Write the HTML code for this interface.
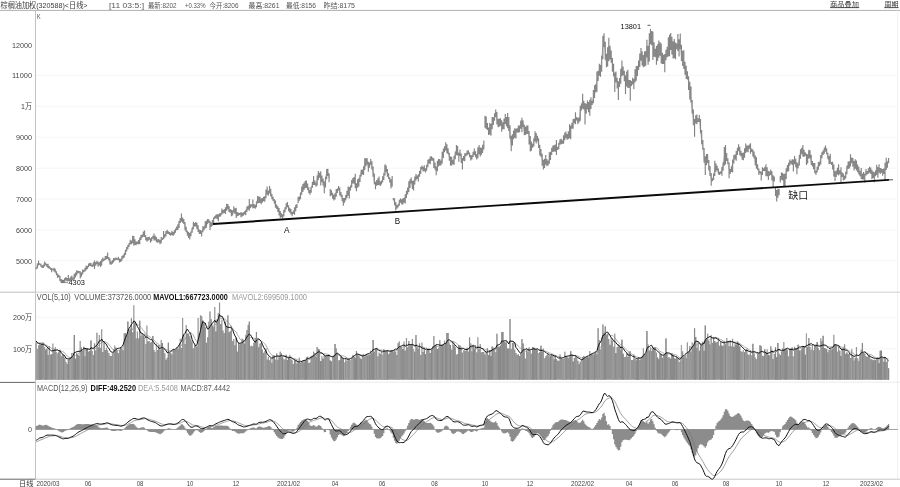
<!DOCTYPE html>
<html lang="zh"><head><meta charset="utf-8"><title>棕榈油加权 日线</title>
<style>html,body{margin:0;padding:0;background:#fff}body{width:900px;height:487px;overflow:hidden}</style></head>
<body>
<svg width="900" height="487" viewBox="0 0 900 487" style="display:block;filter:grayscale(1)">
<rect width="900" height="487" fill="#fff"/>
<line x1="36" y1="75.4" x2="898" y2="75.4" stroke="#f5f5f5" stroke-width="1"/>
<line x1="36" y1="106.3" x2="898" y2="106.3" stroke="#f5f5f5" stroke-width="1"/>
<line x1="36" y1="137.2" x2="898" y2="137.2" stroke="#f5f5f5" stroke-width="1"/>
<line x1="36" y1="168.2" x2="898" y2="168.2" stroke="#f5f5f5" stroke-width="1"/>
<line x1="36" y1="199.1" x2="898" y2="199.1" stroke="#f5f5f5" stroke-width="1"/>
<line x1="36" y1="230.0" x2="898" y2="230.0" stroke="#f5f5f5" stroke-width="1"/>
<line x1="36" y1="260.6" x2="898" y2="260.6" stroke="#f5f5f5" stroke-width="1"/>
<line x1="36" y1="317.3" x2="898" y2="317.3" stroke="#f5f5f5" stroke-width="1"/>
<line x1="36" y1="348.8" x2="898" y2="348.8" stroke="#f5f5f5" stroke-width="1"/>
<line x1="0" y1="10.4" x2="900" y2="10.4" stroke="#b0b0b0" stroke-width="1"/>
<line x1="35.5" y1="10.4" x2="35.5" y2="479.3" stroke="#c2c2c2" stroke-width="1"/>
<line x1="897.6" y1="10.4" x2="897.6" y2="479.3" stroke="#f0f0f0" stroke-width="1"/>
<line x1="0" y1="292.2" x2="35.5" y2="292.2" stroke="#bdbdbd" stroke-width="1"/>
<line x1="35.5" y1="292.2" x2="900" y2="292.2" stroke="#cfcfcf" stroke-width="1"/>
<line x1="0" y1="382.4" x2="35.5" y2="382.4" stroke="#666" stroke-width="1"/>
<line x1="35.5" y1="382.2" x2="900" y2="382.2" stroke="#ebebeb" stroke-width="1"/>
<line x1="0" y1="479.2" x2="35.5" y2="479.2" stroke="#666" stroke-width="1"/>
<line x1="35.5" y1="479.2" x2="900" y2="479.2" stroke="#c8c8c8" stroke-width="1"/>
<path d="M35.60 379.8V343.19H36.80V348.93H37.99V345.54H39.18V344.46H40.37V345.08H41.56V342.42H42.75V342.54H43.94V347.28H45.13V349.75H46.32V348.53H47.51V355.02H48.70V346.12H49.89V354.50H51.08V354.30H52.27V343.60H53.46V350.60H54.65V347.05H55.84V351.91H57.03V353.59H58.22V352.16H59.41V349.86H60.61V356.22H61.80V353.99H62.99V354.98H64.18V357.82H65.37V362.11H66.56V363.93H67.75V359.58H68.94V357.68H70.13V356.96H71.32V352.95H72.51V356.82H73.70V335.00H74.89V358.73H76.08V352.53H77.27V354.79H78.46V355.38H79.65V341.00H80.84V347.29H82.03V351.03H83.22V346.80H84.42V356.36H85.61V348.00H86.80V348.32H87.99V351.55H89.18V350.93H90.37V340.38H91.56V350.97H92.75V354.89H93.94V343.51H95.13V350.59H96.32V332.79H97.51V347.45H98.70V335.00H99.89V347.73H101.08V329.35H102.27V351.94H103.46V342.98H104.65V350.07H105.84V347.78H107.03V350.15H108.23V352.94H109.42V355.69H110.61V356.10H111.80V353.27H112.99V349.13H114.18V345.45H115.37V347.74H116.56V350.63H117.75V353.17H118.94V350.37H120.13V347.09H121.32V348.79H122.51V350.19H123.70V333.42H124.89V333.05H126.08V335.11H127.27V321.62H128.46V330.21H129.65V328.52H130.84V318.37H132.04V332.25H133.23V305.20H134.42V322.43H135.61V338.46H136.80V331.55H137.99V338.18H139.18V320.74H140.37V335.90H141.56V334.07H142.75V335.16H143.94V337.45H145.13V344.27H146.32V325.47H147.51V341.37H148.70V341.03H149.89V342.49H151.08V341.65H152.27V335.89H153.46V350.03H154.66V352.18H155.85V343.80H157.04V349.89H158.23V344.94H159.42V349.81H160.61V340.08H161.80V343.11H162.99V349.03H164.18V353.26H165.37V359.70H166.56V357.74H167.75V342.68H168.94V352.85H170.13V352.89H171.32V354.50H172.51V349.53H173.70V349.70H174.89V349.42H176.08V347.75H177.27V349.28H178.47V345.03H179.66V338.64H180.85V347.72H182.04V318.00H183.23V334.26H184.42V343.93H185.61V324.94H186.80V333.55H187.99V333.80H189.18V336.30H190.37V339.34H191.56V341.47H192.75V348.50H193.94V344.78H195.13V345.46H196.32V346.53H197.51V318.00H198.70V333.43H199.89V315.30H201.08V316.27H202.28V320.45H203.47V323.72H204.66V327.72H205.85V342.86H207.04V337.29H208.23V321.48H209.42V311.60H210.61V319.18H211.80V325.71H212.99V326.52H214.18V306.98H215.37V331.46H216.56V319.39H217.75V313.14H218.94V302.40H220.13V324.07H221.32V319.62H222.51V330.41H223.70V333.27H224.89V321.69H226.09V326.34H227.28V315.35H228.47V332.23H229.66V331.33H230.85V325.69H232.04V341.05H233.23V338.97H234.42V345.40H235.61V337.81H236.80V351.52H237.99V341.96H239.18V344.58H240.37V343.69H241.56V338.72H242.75V339.70H243.94V343.58H245.13V334.74H246.32V330.00H247.51V324.90H248.70V321.70H249.90V346.36H251.09V345.75H252.28V346.48H253.47V342.73H254.66V338.17H255.85V332.00H257.04V339.92H258.23V347.28H259.42V343.65H260.61V343.12H261.80V349.40H262.99V352.77H264.18V351.34H265.37V348.54H266.56V359.45H267.75V356.86H268.94V360.27H270.13V358.13H271.32V362.69H272.51V355.38H273.71V355.62H274.90V359.74H276.09V353.48H277.28V359.96H278.47V357.40H279.66V351.68H280.85V353.32H282.04V357.19H283.23V359.24H284.42V359.50H285.61V354.72H286.80V359.93H287.99V357.45H289.18V354.83H290.37V359.26H291.56V360.36H292.75V364.09H293.94V359.90H295.13V360.04H296.32V363.63H297.52V362.04H298.71V357.59H299.90V363.00H301.09V361.08H302.28V361.81H303.47V362.30H304.66V360.29H305.85V357.50H307.04V356.61H308.23V363.05H309.42V362.51H310.61V356.00H311.80V355.40H312.99V351.61H314.18V352.89H315.37V356.95H316.56V347.00H317.75V348.88H318.94V349.48H320.13V361.00H321.33V355.91H322.52V358.66H323.71V354.81H324.90V355.72H326.09V355.55H327.28V355.44H328.47V354.76H329.66V360.49H330.85V361.50H332.04V357.21H333.23V355.19H334.42V344.00H335.61V348.45H336.80V353.34H337.99V360.58H339.18V360.19H340.37V356.52H341.56V357.35H342.75V358.62H343.94V362.39H345.14V357.75H346.33V360.75H347.52V359.05H348.71V359.18H349.90V360.31H351.09V357.93H352.28V355.23H353.47V357.31H354.66V358.28H355.85V351.00H357.04V353.81H358.23V355.97H359.42V357.57H360.61V358.99H361.80V354.84H362.99V354.57H364.18V356.61H365.37V355.27H366.56V355.71H367.76V354.85H368.95V355.38H370.14V350.79H371.33V353.34H372.52V340.00H373.71V352.05H374.90V348.60H376.09V347.80H377.28V356.53H378.47V352.57H379.66V353.74H380.85V352.01H382.04V354.64H383.23V349.44H384.42V351.41H385.61V351.53H386.80V349.91H387.99V353.94H389.18V352.53H390.37V350.29H391.57V350.48H392.76V351.41H393.95V349.79H395.14V351.41H396.33V355.03H397.52V343.23H398.71V341.44H399.90V346.20H401.09V347.22H402.28V349.08H403.47V341.52H404.66V350.54H405.85V338.00H407.04V347.24H408.23V341.09H409.42V346.36H410.61V344.93H411.80V339.00H412.99V349.31H414.18V351.63H415.38V335.04H416.57V346.81H417.76V348.43H418.95V343.29H420.14V355.04H421.33V342.45H422.52V351.96H423.71V348.15H424.90V354.24H426.09V349.85H427.28V349.14H428.47V350.00H429.66V353.10H430.85V349.51H432.04V346.32H433.23V336.00H434.42V345.36H435.61V345.10H436.80V349.01H437.99V347.71H439.19V340.32H440.38V345.71H441.57V345.18H442.76V343.67H443.95V340.72H445.14V343.05H446.33V333.00H447.52V333.00H448.71V343.25H449.90V344.99H451.09V349.70H452.28V341.06H453.47V344.89H454.66V347.13H455.85V354.51H457.04V354.04H458.23V345.15H459.42V345.50H460.61V347.45H461.80V352.38H463.00V350.22H464.19V350.62H465.38V350.80H466.57V347.67H467.76V351.39H468.95V337.50H470.14V343.48H471.33V351.31H472.52V344.81H473.71V348.60H474.90V345.00H476.09V352.58H477.28V337.24H478.47V349.00H479.66V343.94H480.85V352.45H482.04V351.94H483.23V351.96H484.42V354.55H485.61V351.66H486.81V348.08H488.00V355.12H489.19V350.00H490.38V356.05H491.57V346.49H492.76V347.53H493.95V348.51H495.14V352.32H496.33V333.80H497.52V346.63H498.71V347.33H499.90V345.78H501.09V331.92H502.28V332.00H503.47V341.93H504.66V342.61H505.85V342.48H507.04V348.46H508.23V348.57H509.42V319.00H510.62V348.99H511.81V342.80H513.00V342.42H514.19V349.78H515.38V353.04H516.57V355.07H517.76V354.04H518.95V356.04H520.14V353.35H521.33V339.00H522.52V343.45H523.71V350.15H524.90V358.45H526.09V349.29H527.28V351.65H528.47V347.55H529.66V351.06H530.85V353.79H532.04V346.95H533.23V347.53H534.43V348.91H535.62V349.00H536.81V349.95H538.00V353.05H539.19V351.91H540.38V345.73H541.57V351.91H542.76V348.82H543.95V358.40H545.14V356.34H546.33V355.01H547.52V353.77H548.71V356.39H549.90V355.98H551.09V354.23H552.28V355.90H553.47V359.38H554.66V355.39H555.85V359.05H557.04V360.48H558.24V360.69H559.43V354.30H560.62V358.41H561.81V358.99H563.00V358.81H564.19V351.75H565.38V356.40H566.57V357.26H567.76V358.10H568.95V356.12H570.14V351.27H571.33V354.82H572.52V361.60H573.71V358.00H574.90V355.01H576.09V356.88H577.28V360.87H578.47V364.12H579.66V361.76H580.86V359.59H582.05V357.16H583.24V355.95H584.43V358.55H585.62V357.58H586.81V356.33H588.00V357.59H589.19V351.07H590.38V354.31H591.57V353.39H592.76V355.20H593.95V353.32H595.14V351.86H596.33V354.36H597.52V328.30H598.71V339.99H599.90V349.46H601.09V337.72H602.28V324.60H603.47V332.64H604.67V326.40H605.86V334.61H607.05V333.51H608.24V338.95H609.43V344.65H610.62V337.62H611.81V341.07H613.00V346.87H614.19V333.53H615.38V353.33H616.57V347.15H617.76V344.35H618.95V346.53H620.14V349.45H621.33V339.63H622.52V353.74H623.71V356.99H624.90V356.77H626.09V353.65H627.28V356.66H628.48V351.95H629.67V351.15H630.86V359.88H632.05V360.00H633.24V354.28H634.43V358.86H635.62V360.44H636.81V358.96H638.00V357.38H639.19V359.90H640.38V358.63H641.57V355.82H642.76V348.23H643.95V353.66H645.14V354.04H646.33V331.00H647.52V344.49H648.71V351.33H649.90V347.38H651.09V350.70H652.29V348.84H653.48V348.12H654.67V347.17H655.86V352.57H657.05V357.55H658.24V359.30H659.43V354.31H660.62V354.24H661.81V357.83H663.00V355.25H664.19V354.71H665.38V338.40H666.57V353.18H667.76V357.46H668.95V357.51H670.14V358.69H671.33V353.11H672.52V355.61H673.71V358.37H674.90V358.43H676.10V357.19H677.29V358.87H678.48V362.35H679.67V360.17H680.86V344.90H682.05V351.13H683.24V357.02H684.43V355.07H685.62V357.68H686.81V342.60H688.00V352.16H689.19V345.99H690.38V352.30H691.57V342.13H692.76V346.88H693.95V328.30H695.14V337.03H696.33V347.84H697.52V342.20H698.71V350.86H699.91V345.51H701.10V344.95H702.29V341.65H703.48V350.63H704.67V325.50H705.86V338.36H707.05V333.67H708.24V341.05H709.43V344.47H710.62V335.31H711.81V342.72H713.00V336.89H714.19V341.14H715.38V342.42H716.57V341.67H717.76V338.87H718.95V345.87H720.14V342.19H721.33V345.76H722.52V345.82H723.72V341.03H724.91V344.44H726.10V338.00H727.29V341.71H728.48V346.34H729.67V340.14H730.86V346.19H732.05V338.71H733.24V346.87H734.43V343.84H735.62V344.79H736.81V341.40H738.00V342.78H739.19V346.48H740.38V351.13H741.57V351.94H742.76V350.33H743.95V352.13H745.14V349.77H746.33V348.75H747.53V354.39H748.72V354.78H749.91V350.44H751.10V355.47H752.29V343.85H753.48V353.35H754.67V357.57H755.86V359.27H757.05V353.10H758.24V354.28H759.43V345.23H760.62V345.96H761.81V355.64H763.00V356.08H764.19V349.32H765.38V352.94H766.57V349.35H767.76V354.80H768.95V355.34H770.14V346.16H771.34V349.41H772.53V358.97H773.72V353.88H774.91V347.27H776.10V357.16H777.29V343.00H778.48V353.63H779.67V355.23H780.86V351.78H782.05V348.57H783.24V342.00H784.43V349.53H785.62V348.74H786.81V350.34H788.00V356.30H789.19V348.81H790.38V348.45H791.57V347.37H792.76V356.42H793.96V346.85H795.15V348.29H796.34V349.27H797.53V344.77H798.72V350.53H799.91V350.59H801.10V348.47H802.29V346.35H803.48V346.57H804.67V354.83H805.86V333.38H807.05V347.14H808.24V338.00H809.43V347.12H810.62V349.78H811.81V344.72H813.00V350.17H814.19V345.37H815.38V346.84H816.57V342.05H817.77V348.28H818.96V350.18H820.15V338.59H821.34V341.37H822.53V335.87H823.72V347.97H824.91V348.28H826.10V348.92H827.29V352.21H828.48V349.96H829.67V348.39H830.86V349.56H832.05V348.73H833.24V334.70H834.43V343.93H835.62V345.35H836.81V351.70H838.00V346.72H839.19V350.74H840.38V356.05H841.58V348.55H842.77V347.75H843.96V344.48H845.15V353.93H846.34V352.44H847.53V354.13H848.72V353.54H849.91V357.92H851.10V349.21H852.29V356.67H853.48V360.69H854.67V357.81H855.86V347.00H857.05V358.42H858.24V361.30H859.43V354.32H860.62V349.74H861.81V343.00H863.00V352.73H864.19V353.97H865.39V356.09H866.58V357.08H867.77V355.97H868.96V355.07H870.15V358.96H871.34V359.29H872.53V360.33H873.72V359.47H874.91V360.14H876.10V358.22H877.29V358.08H878.48V363.31H879.67V350.63H880.86V350.66H882.05V358.34H883.24V361.79H884.43V357.27H885.62V362.09H886.81V360.51H888.00V368.30H889.20V379.8Z" fill="#939393" stroke="none"/>
<path d="M39.77 379.8V344.46M40.96 379.8V345.08M45.72 379.8V349.75M46.91 379.8V348.53M51.68 379.8V354.30M58.82 379.8V352.16M63.58 379.8V354.98M68.34 379.8V359.58M74.30 379.8V335.00M75.49 379.8V358.73M77.87 379.8V354.79M83.82 379.8V346.80M86.20 379.8V348.00M87.39 379.8V348.32M89.77 379.8V350.93M90.96 379.8V340.38M94.53 379.8V343.51M98.11 379.8V347.45M105.25 379.8V350.07M115.96 379.8V347.74M118.34 379.8V353.17M120.73 379.8V347.09M125.49 379.8V333.05M127.87 379.8V321.62M131.44 379.8V318.37M135.01 379.8V322.43M139.77 379.8V320.74M143.35 379.8V335.16M152.87 379.8V335.89M158.82 379.8V344.94M162.39 379.8V343.11M165.96 379.8V359.70M168.35 379.8V342.68M170.73 379.8V352.89M202.87 379.8V320.45M204.06 379.8V323.72M206.44 379.8V342.86M212.39 379.8V325.71M217.16 379.8V319.39M225.49 379.8V321.69M229.06 379.8V332.23M236.20 379.8V337.81M238.59 379.8V341.96M240.97 379.8V343.69M244.54 379.8V343.58M249.30 379.8V321.70M254.06 379.8V342.73M256.44 379.8V332.00M258.82 379.8V347.28M261.21 379.8V343.12M274.30 379.8V355.62M279.06 379.8V357.40M282.63 379.8V357.19M287.40 379.8V359.93M288.59 379.8V357.45M294.54 379.8V359.90M298.11 379.8V362.04M305.25 379.8V360.29M306.44 379.8V357.50M315.97 379.8V356.95M318.35 379.8V348.88M320.73 379.8V361.00M323.11 379.8V358.66M330.25 379.8V360.49M331.44 379.8V361.50M335.02 379.8V344.00M339.78 379.8V360.19M340.97 379.8V356.52M343.35 379.8V358.62M354.06 379.8V357.31M355.25 379.8V358.28M356.45 379.8V351.00M361.21 379.8V358.99M367.16 379.8V355.71M369.54 379.8V355.38M371.92 379.8V353.34M373.11 379.8V340.00M387.40 379.8V349.91M402.87 379.8V349.08M411.21 379.8V344.93M414.78 379.8V351.63M424.30 379.8V348.15M425.49 379.8V354.24M431.45 379.8V349.51M437.40 379.8V349.01M442.16 379.8V345.18M445.73 379.8V343.05M446.92 379.8V333.00M450.49 379.8V344.99M454.07 379.8V344.89M458.83 379.8V345.15M469.54 379.8V337.50M473.11 379.8V344.81M474.31 379.8V348.60M488.59 379.8V355.12M489.78 379.8V350.00M490.97 379.8V356.05M492.16 379.8V346.49M498.12 379.8V346.63M499.31 379.8V347.33M500.50 379.8V345.78M502.88 379.8V332.00M504.07 379.8V341.93M507.64 379.8V348.46M519.54 379.8V356.04M523.12 379.8V343.45M532.64 379.8V346.95M533.83 379.8V347.53M536.21 379.8V349.00M540.97 379.8V345.73M550.50 379.8V355.98M554.07 379.8V359.38M555.26 379.8V355.39M565.97 379.8V356.40M570.74 379.8V351.27M573.12 379.8V361.60M579.07 379.8V364.12M583.83 379.8V355.95M587.40 379.8V356.33M588.59 379.8V357.59M594.55 379.8V353.32M604.07 379.8V332.64M605.26 379.8V326.40M615.97 379.8V353.33M621.93 379.8V339.63M623.12 379.8V353.74M636.21 379.8V360.44M637.40 379.8V358.96M638.59 379.8V357.38M645.74 379.8V354.04M646.93 379.8V331.00M649.31 379.8V351.33M652.88 379.8V348.84M654.07 379.8V348.12M657.64 379.8V357.55M658.83 379.8V359.30M660.02 379.8V354.31M662.40 379.8V357.83M664.79 379.8V354.71M665.98 379.8V338.40M670.74 379.8V358.69M671.93 379.8V353.11M673.12 379.8V355.61M674.31 379.8V358.37M676.69 379.8V357.19M683.83 379.8V357.02M694.55 379.8V328.30M695.74 379.8V337.03M699.31 379.8V350.86M700.50 379.8V345.51M702.88 379.8V341.65M705.26 379.8V325.50M706.45 379.8V338.36M708.83 379.8V341.05M713.60 379.8V336.89M714.79 379.8V341.14M720.74 379.8V342.19M721.93 379.8V345.76M725.50 379.8V344.44M733.83 379.8V346.87M736.22 379.8V344.79M737.41 379.8V341.40M738.60 379.8V342.78M739.79 379.8V346.48M744.55 379.8V352.13M752.88 379.8V343.85M760.03 379.8V345.23M764.79 379.8V349.32M768.36 379.8V354.80M775.50 379.8V347.27M776.69 379.8V357.16M777.88 379.8V343.00M780.26 379.8V355.23M785.03 379.8V349.53M786.22 379.8V348.74M798.12 379.8V344.77M799.31 379.8V350.53M802.88 379.8V346.35M804.07 379.8V346.57M805.26 379.8V354.83M807.65 379.8V347.14M814.79 379.8V345.37M817.17 379.8V342.05M823.12 379.8V335.87M824.31 379.8V347.97M826.69 379.8V348.92M832.65 379.8V348.73M836.22 379.8V345.35M839.79 379.8V350.74M840.98 379.8V356.05M844.55 379.8V344.48M846.93 379.8V352.44M848.12 379.8V354.13M852.88 379.8V356.67M855.27 379.8V357.81M860.03 379.8V354.32M862.41 379.8V343.00M873.12 379.8V360.33M875.50 379.8V360.14M877.89 379.8V358.08M879.08 379.8V363.31M880.27 379.8V350.63M881.46 379.8V350.66M885.03 379.8V357.27M888.60 379.8V368.30" stroke="#878787" stroke-width="1.0" fill="none"/>
<path d="M37.39 379.8V348.93M38.58 379.8V345.54M44.53 379.8V347.28M49.30 379.8V346.12M60.01 379.8V349.86M62.39 379.8V353.99M64.77 379.8V357.82M69.53 379.8V357.68M71.92 379.8V352.95M85.01 379.8V356.36M95.73 379.8V350.59M104.06 379.8V342.98M108.82 379.8V352.94M117.15 379.8V350.63M119.54 379.8V350.37M121.92 379.8V348.79M124.30 379.8V333.42M126.68 379.8V335.11M129.06 379.8V330.21M136.20 379.8V338.46M142.15 379.8V334.07M149.30 379.8V341.03M164.77 379.8V353.26M169.54 379.8V352.85M176.68 379.8V347.75M185.01 379.8V343.93M189.77 379.8V336.30M193.35 379.8V348.50M201.68 379.8V316.27M205.25 379.8V327.72M207.63 379.8V337.29M211.20 379.8V319.18M218.35 379.8V313.14M224.30 379.8V333.27M226.68 379.8V326.34M227.87 379.8V315.35M230.25 379.8V331.33M232.63 379.8V341.05M235.01 379.8V345.40M239.78 379.8V344.58M242.16 379.8V338.72M243.35 379.8V339.70M250.49 379.8V346.36M251.68 379.8V345.75M252.87 379.8V346.48M257.63 379.8V339.92M265.97 379.8V348.54M270.73 379.8V358.13M273.11 379.8V355.38M275.49 379.8V359.74M276.68 379.8V353.48M277.87 379.8V359.96M280.25 379.8V351.68M286.21 379.8V354.72M290.97 379.8V359.26M293.35 379.8V364.09M295.73 379.8V360.04M296.92 379.8V363.63M301.68 379.8V361.08M310.02 379.8V362.51M311.21 379.8V356.00M312.40 379.8V355.40M314.78 379.8V352.89M317.16 379.8V347.00M324.30 379.8V354.81M326.68 379.8V355.55M327.87 379.8V355.44M336.21 379.8V348.45M349.30 379.8V359.18M358.83 379.8V355.97M362.40 379.8V354.84M363.59 379.8V354.57M368.35 379.8V354.85M375.49 379.8V348.60M381.45 379.8V352.01M383.83 379.8V349.44M385.02 379.8V351.41M386.21 379.8V351.53M396.92 379.8V355.03M398.11 379.8V343.23M399.30 379.8V341.44M408.83 379.8V341.09M410.02 379.8V346.36M415.97 379.8V335.04M420.73 379.8V355.04M423.11 379.8V351.96M426.68 379.8V349.85M427.88 379.8V349.14M439.78 379.8V340.32M444.54 379.8V340.72M448.11 379.8V333.00M451.69 379.8V349.70M455.26 379.8V347.13M457.64 379.8V354.04M467.16 379.8V347.67M470.73 379.8V343.48M471.92 379.8V351.31M475.50 379.8V345.00M476.69 379.8V352.58M479.07 379.8V349.00M481.45 379.8V352.45M494.54 379.8V348.51M495.73 379.8V352.32M496.92 379.8V333.80M510.02 379.8V319.00M511.21 379.8V348.99M513.59 379.8V342.42M515.97 379.8V353.04M518.35 379.8V354.04M521.93 379.8V339.00M526.69 379.8V349.29M527.88 379.8V351.65M531.45 379.8V353.79M537.40 379.8V349.95M543.35 379.8V348.82M544.54 379.8V358.40M546.93 379.8V355.01M549.31 379.8V356.39M562.40 379.8V358.99M563.59 379.8V358.81M571.93 379.8V354.82M576.69 379.8V356.88M577.88 379.8V360.87M580.26 379.8V361.76M582.64 379.8V357.16M590.97 379.8V354.31M593.36 379.8V355.20M598.12 379.8V328.30M600.50 379.8V349.46M601.69 379.8V337.72M602.88 379.8V324.60M612.40 379.8V341.07M613.59 379.8V346.87M617.17 379.8V347.15M624.31 379.8V356.99M626.69 379.8V353.65M635.02 379.8V358.86M639.78 379.8V359.90M650.50 379.8V347.38M661.21 379.8V354.24M663.59 379.8V355.25M668.36 379.8V357.46M669.55 379.8V357.51M677.88 379.8V358.87M687.41 379.8V342.60M688.60 379.8V352.16M689.79 379.8V345.99M690.98 379.8V352.30M707.64 379.8V333.67M710.02 379.8V344.47M711.22 379.8V335.31M724.31 379.8V341.03M727.88 379.8V341.71M729.07 379.8V346.34M740.98 379.8V351.13M742.17 379.8V351.94M745.74 379.8V349.77M754.07 379.8V353.35M756.45 379.8V359.27M758.84 379.8V354.28M761.22 379.8V345.96M763.60 379.8V356.08M765.98 379.8V352.94M770.74 379.8V346.16M774.31 379.8V353.88M779.07 379.8V353.63M789.79 379.8V348.81M795.74 379.8V348.29M796.93 379.8V349.27M808.84 379.8V338.00M812.41 379.8V344.72M818.36 379.8V348.28M819.55 379.8V350.18M829.07 379.8V349.96M831.46 379.8V349.56M837.41 379.8V351.70M838.60 379.8V346.72M842.17 379.8V348.55M843.36 379.8V347.75M849.31 379.8V353.54M857.65 379.8V358.42M858.84 379.8V361.30M864.79 379.8V353.97M869.55 379.8V355.07M882.65 379.8V358.34M887.41 379.8V360.51" stroke="#9b9b9b" stroke-width="1.0" fill="none"/>
<path d="M36.20 379.8V343.19M56.44 379.8V351.91M57.63 379.8V353.59M65.96 379.8V362.11M70.72 379.8V356.96M80.25 379.8V341.00M92.15 379.8V350.97M96.92 379.8V332.79M113.58 379.8V349.13M140.96 379.8V335.90M144.54 379.8V337.45M145.73 379.8V344.27M155.25 379.8V352.18M156.44 379.8V343.80M160.01 379.8V349.81M171.92 379.8V354.50M183.82 379.8V334.26M195.73 379.8V345.46M199.30 379.8V333.43M210.01 379.8V311.60M246.92 379.8V330.00M260.01 379.8V343.65M264.78 379.8V351.34M283.82 379.8V359.24M332.64 379.8V357.21M338.59 379.8V360.58M344.54 379.8V362.39M346.92 379.8V360.75M350.49 379.8V360.31M351.68 379.8V357.93M352.87 379.8V355.23M365.97 379.8V355.27M377.87 379.8V356.53M382.64 379.8V354.64M413.59 379.8V349.31M433.83 379.8V336.00M463.59 379.8V350.22M486.21 379.8V351.66M529.07 379.8V347.55M538.59 379.8V353.05M552.88 379.8V355.90M564.78 379.8V351.75M581.45 379.8V359.59M630.26 379.8V351.15M648.12 379.8V344.49M655.26 379.8V347.17M679.07 379.8V362.35M681.45 379.8V344.90M685.02 379.8V355.07M698.12 379.8V342.20M701.69 379.8V344.95M726.69 379.8V338.00M743.36 379.8V350.33M749.31 379.8V354.78M751.69 379.8V355.47M793.36 379.8V356.42M800.50 379.8V350.59M806.46 379.8V333.38M811.22 379.8V349.78M815.98 379.8V346.84M820.74 379.8V338.59M851.69 379.8V349.21M854.08 379.8V360.69M861.22 379.8V349.74M876.69 379.8V358.22" stroke="#a6a6a6" stroke-width="1.0" fill="none"/>
<path d="M36.20 341.03L37.39 342.79L38.58 342.91L39.77 342.95L40.96 343.13L42.15 343.09L43.34 343.36L44.53 344.02L45.72 344.77L46.91 345.38L48.11 346.44L49.30 346.68L50.49 347.54L51.68 348.43L52.87 348.66L54.06 349.36L55.25 349.80L56.44 350.19L57.63 350.49L58.82 350.71L60.01 350.47L61.20 351.20L62.39 351.47L63.58 351.94L64.77 353.28L65.96 354.60L67.15 356.10L68.34 356.91L69.53 357.32L70.72 357.57L71.92 357.53L73.11 357.15L74.30 355.69L75.49 355.51L76.68 354.85L77.87 354.10L79.06 353.32L80.25 352.00L81.44 351.16L82.63 350.57L83.82 349.97L85.01 349.68L86.20 350.15L87.39 349.39L88.58 349.18L89.77 348.86L90.96 347.97L92.15 348.51L93.34 348.87L94.53 348.29L95.73 348.23L96.92 346.54L98.11 346.01L99.30 344.67L100.49 343.83L101.68 342.20L102.87 342.58L104.06 342.07L105.25 341.91L106.44 342.48L107.63 343.00L108.82 344.70L110.01 345.82L111.20 347.71L112.39 348.63L113.58 350.17L114.77 350.07L115.96 350.41L117.15 350.32L118.34 350.31L119.54 350.00L120.73 349.34L121.92 348.41L123.11 347.34L124.30 345.30L125.49 343.27L126.68 341.41L127.87 338.60L129.06 336.22L130.25 333.72L131.44 330.93L132.63 329.19L133.82 326.02L135.01 324.07L136.20 324.28L137.39 324.49L138.58 325.30L139.77 326.18L140.96 327.58L142.15 328.86L143.35 330.65L144.54 331.70L145.73 334.45L146.92 335.13L148.11 335.74L149.30 336.65L150.49 337.21L151.68 338.64L152.87 338.94L154.06 340.16L155.25 341.48L156.44 342.27L157.63 343.06L158.82 344.65L160.01 345.63L161.20 346.06L162.39 346.55L163.58 347.37L164.77 348.71L165.96 349.59L167.16 350.19L168.35 350.29L169.54 350.48L170.73 350.81L171.92 350.83L173.11 350.98L174.30 350.88L175.49 350.47L176.68 349.75L177.87 348.74L179.06 347.50L180.25 346.63L181.44 345.60L182.63 342.81L183.82 340.69L185.01 339.30L186.20 336.87L187.39 335.08L188.58 333.64L189.77 332.62L190.97 332.64L192.16 333.79L193.35 335.15L194.54 338.09L195.73 340.25L196.92 341.43L198.11 341.21L199.30 340.49L200.49 338.27L201.68 335.49L202.87 332.52L204.06 330.06L205.25 327.95L206.44 327.41L207.63 326.88L208.82 325.64L210.01 325.43L211.20 324.59L212.39 324.97L213.58 325.20L214.78 324.12L215.97 324.30L217.16 323.53L218.35 321.44L219.54 318.85L220.73 318.36L221.92 318.32L223.11 318.60L224.30 319.06L225.49 319.31L226.68 321.36L227.87 321.56L229.06 323.24L230.25 325.10L231.44 327.05L232.63 328.43L233.82 329.86L235.01 331.13L236.20 332.02L237.39 334.48L238.59 336.32L239.78 338.84L240.97 340.17L242.16 341.02L243.35 341.99L244.54 342.04L245.73 341.44L246.92 340.16L248.11 339.04L249.30 337.14L250.49 337.26L251.68 337.39L252.87 337.82L254.06 338.41L255.25 338.63L256.44 338.12L257.63 338.36L258.82 339.11L260.01 340.00L261.21 341.22L262.40 341.66L263.59 342.63L264.78 343.81L265.97 345.33L267.16 347.67L268.35 350.17L269.54 352.37L270.73 353.78L271.92 355.32L273.11 356.16L274.30 356.47L275.49 356.64L276.68 356.46L277.87 356.84L279.06 356.58L280.25 356.24L281.44 355.91L282.63 355.99L283.82 355.94L285.02 356.30L286.21 356.39L287.40 356.53L288.59 356.88L289.78 356.73L290.97 356.98L292.16 357.61L293.35 358.36L294.54 358.69L295.73 358.92L296.92 359.35L298.11 360.00L299.30 360.22L300.49 360.79L301.68 361.28L302.87 361.47L304.06 361.51L305.25 361.08L306.44 360.54L307.63 359.94L308.83 359.52L310.02 359.18L311.21 358.74L312.40 357.98L313.59 357.15L314.78 356.37L315.97 355.81L317.16 354.84L318.35 354.20L319.54 353.71L320.73 353.56L321.92 353.21L323.11 353.42L324.30 353.51L325.49 353.87L326.68 354.16L327.87 354.23L329.06 354.82L330.25 355.63L331.44 356.42L332.64 356.27L333.83 356.24L335.02 355.38L336.21 354.93L337.40 354.73L338.59 355.03L339.78 355.41L340.97 355.71L342.16 355.80L343.35 355.92L344.54 356.44L345.73 356.76L346.92 357.82L348.11 358.50L349.30 358.85L350.49 358.76L351.68 358.46L352.87 358.12L354.06 357.74L355.25 357.24L356.45 356.12L357.64 355.56L358.83 355.12L360.02 355.02L361.21 355.16L362.40 355.11L363.59 355.16L364.78 355.34L365.97 355.20L367.16 354.90L368.35 354.81L369.54 354.50L370.73 353.82L371.92 353.17L373.11 351.72L374.30 351.25L375.49 350.71L376.68 350.11L377.87 350.17L379.06 350.08L380.26 350.15L381.45 350.06L382.64 350.34L383.83 350.17L385.02 350.82L386.21 350.82L387.40 350.92L388.59 351.31L389.78 351.15L390.97 351.09L392.16 350.93L393.35 350.83L394.54 350.42L395.73 350.30L396.92 350.20L398.11 349.36L399.30 348.52L400.49 347.79L401.68 347.27L402.87 347.03L404.07 346.44L405.26 346.36L406.45 345.71L407.64 345.50L408.83 344.75L410.02 344.96L411.21 345.20L412.40 344.86L413.59 345.04L414.78 345.27L415.97 345.03L417.16 344.96L418.35 345.69L419.54 345.66L420.73 346.63L421.92 346.58L423.11 347.11L424.30 347.72L425.49 348.06L426.68 348.00L427.88 348.78L429.07 348.93L430.26 349.12L431.45 349.34L432.64 348.70L433.83 348.14L435.02 347.52L436.21 347.10L437.40 346.61L438.59 346.33L439.78 345.73L440.97 345.43L442.16 344.97L443.35 344.63L444.54 344.25L445.73 344.51L446.92 343.63L448.11 342.72L449.30 342.14L450.49 341.77L451.69 342.16L452.88 341.86L454.07 341.89L455.26 342.28L456.45 343.36L457.64 344.35L458.83 345.40L460.02 346.48L461.21 347.10L462.40 347.83L463.59 348.12L464.78 348.84L465.97 349.28L467.16 349.35L468.35 349.15L469.54 348.13L470.73 347.84L471.92 347.90L473.11 347.55L474.31 347.23L475.50 346.93L476.69 347.10L477.88 346.52L479.07 346.84L480.26 346.69L481.45 347.76L482.64 348.47L483.83 348.73L485.02 349.49L486.21 349.86L487.40 350.20L488.59 350.41L489.78 351.08L490.97 351.34L492.16 351.24L493.35 350.64L494.54 350.05L495.73 349.67L496.92 348.13L498.12 347.45L499.31 347.01L500.50 346.09L501.69 344.69L502.88 343.07L504.07 342.63L505.26 342.28L506.45 341.98L507.64 341.89L508.83 342.81L510.02 341.29L511.21 341.27L512.40 340.98L513.59 341.54L514.78 342.65L515.97 343.63L517.16 344.86L518.35 346.19L519.54 347.34L520.73 348.24L521.93 349.82L523.12 349.78L524.31 350.29L525.50 351.15L526.69 350.99L527.88 350.66L529.07 349.98L530.26 349.59L531.45 349.28L532.64 348.77L533.83 349.15L535.02 349.44L536.21 349.41L537.40 349.03L538.59 349.37L539.78 349.56L540.97 349.66L542.16 349.91L543.35 349.84L544.54 350.67L545.74 351.35L546.93 351.88L548.12 352.34L549.31 352.89L550.50 353.25L551.69 353.58L552.88 354.34L554.07 354.95L555.26 355.51L556.45 355.75L557.64 356.17L558.83 356.67L560.02 356.88L561.21 357.16L562.40 357.42L563.59 357.71L564.78 357.46L565.97 357.20L567.16 357.16L568.35 356.91L569.55 356.49L570.74 355.81L571.93 355.70L573.12 355.74L574.31 355.61L575.50 355.40L576.69 355.76L577.88 356.16L579.07 356.77L580.26 357.27L581.45 357.77L582.64 358.30L583.83 358.44L585.02 358.24L586.21 358.07L587.40 357.89L588.59 357.60L589.78 356.74L590.97 355.89L592.16 355.14L593.36 354.61L594.55 354.12L595.74 353.58L596.93 352.86L598.12 350.60L599.31 348.89L600.50 347.48L601.69 345.68L602.88 342.90L604.07 340.70L605.26 338.29L606.45 336.68L607.64 335.31L608.83 334.29L610.02 335.25L611.21 335.43L612.40 335.37L613.59 336.36L614.78 337.43L615.97 339.21L617.17 341.01L618.36 342.18L619.55 343.50L620.74 344.65L621.93 344.92L623.12 346.33L624.31 347.72L625.50 348.77L626.69 350.36L627.88 351.03L629.07 351.75L630.26 352.56L631.45 353.68L632.64 354.63L633.83 355.76L635.02 356.34L636.21 356.79L637.40 357.10L638.59 357.40L639.78 357.60L640.98 357.90L642.17 358.01L643.36 357.08L644.55 356.34L645.74 355.82L646.93 353.69L648.12 352.14L649.31 351.00L650.50 349.73L651.69 348.68L652.88 347.84L654.07 347.38L655.26 347.49L656.45 347.76L657.64 348.41L658.83 350.44L660.02 351.39L661.21 351.89L662.40 352.71L663.59 353.16L664.79 353.64L665.98 353.25L667.17 353.68L668.36 354.03L669.55 354.10L670.74 354.15L671.93 354.16L673.12 354.32L674.31 354.44L675.50 354.77L676.69 355.12L677.88 356.52L679.07 357.36L680.26 357.83L681.45 357.35L682.64 357.01L683.83 357.14L685.02 356.89L686.21 356.45L687.41 355.08L688.60 354.27L689.79 353.00L690.98 351.84L692.17 350.18L693.36 349.57L694.55 347.57L695.74 345.75L696.93 344.79L698.12 343.55L699.31 343.82L700.50 343.47L701.69 343.50L702.88 342.93L704.07 343.22L705.26 341.66L706.45 341.71L707.64 340.94L708.83 340.03L710.02 339.73L711.22 338.56L712.41 338.25L713.60 337.69L714.79 337.58L715.98 337.07L717.17 337.99L718.36 338.18L719.55 339.11L720.74 339.54L721.93 340.03L723.12 341.02L724.31 341.29L725.50 341.96L726.69 341.93L727.88 341.92L729.07 342.15L730.26 342.18L731.45 342.14L732.64 341.90L733.83 341.97L735.03 341.96L736.22 342.33L737.41 342.41L738.60 343.00L739.79 343.65L740.98 344.29L742.17 345.31L743.36 345.90L744.55 346.99L745.74 347.50L746.93 348.11L748.12 348.96L749.31 349.99L750.50 350.66L751.69 351.38L752.88 351.18L754.07 351.41L755.26 351.90L756.45 352.33L757.64 352.51L758.84 352.75L760.03 352.14L761.22 351.57L762.41 351.86L763.60 351.99L764.79 352.47L765.98 352.72L767.17 352.59L768.36 352.56L769.55 352.77L770.74 352.28L771.93 352.35L773.12 352.77L774.31 352.29L775.50 351.41L776.69 351.43L777.88 350.48L779.07 350.42L780.26 350.28L781.45 350.04L782.65 350.27L783.84 350.05L785.03 349.75L786.22 349.58L787.41 349.75L788.60 349.61L789.79 349.77L790.98 349.31L792.17 348.76L793.36 348.96L794.55 348.86L795.74 349.25L796.93 349.21L798.12 348.90L799.31 348.74L800.50 348.18L801.69 347.84L802.88 347.40L804.07 347.11L805.26 346.85L806.46 346.02L807.65 345.94L808.84 345.37L810.03 345.51L811.22 345.45L812.41 345.06L813.60 345.05L814.79 344.90L815.98 344.87L817.17 344.19L818.36 345.11L819.55 345.45L820.74 345.74L821.93 345.68L823.12 345.16L824.31 345.56L825.50 345.67L826.69 346.06L827.88 346.47L829.07 346.92L830.27 346.86L831.46 346.68L832.65 347.00L833.84 346.32L835.03 346.49L836.22 346.19L837.41 346.32L838.60 346.25L839.79 346.33L840.98 346.94L842.17 347.24L843.36 347.44L844.55 347.49L845.74 348.83L846.93 349.60L848.12 350.44L849.31 350.95L850.50 352.03L851.69 352.46L852.88 353.06L854.08 354.16L855.27 354.98L856.46 355.23L857.65 355.43L858.84 355.69L860.03 355.30L861.22 354.66L862.41 353.45L863.60 353.40L864.79 353.16L865.98 352.98L867.17 353.18L868.36 354.05L869.55 354.30L870.74 354.54L871.93 355.12L873.12 355.95L874.31 357.00L875.50 357.50L876.69 357.77L877.89 357.88L879.08 358.19L880.27 357.87L881.46 357.65L882.65 357.68L883.84 357.93L885.03 357.91L886.22 358.20L887.41 358.36L888.60 359.04" stroke="#8a8a8a" stroke-width="0.7" fill="none"/>
<path d="M36.20 341.03L37.39 342.97L38.58 343.35L39.77 343.63L40.96 344.06L42.15 344.45L43.34 344.23L44.53 344.90L45.72 345.85L46.91 346.57L48.11 348.30L49.30 349.03L50.49 350.17L51.68 351.01L52.87 350.61L54.06 350.13L55.25 350.23L56.44 349.94L57.63 349.87L58.82 350.81L60.01 350.99L61.20 352.77L62.39 353.77L63.58 354.69L64.77 356.09L65.96 358.20L67.15 358.67L68.34 358.87L69.53 358.76L70.72 358.25L71.92 356.83L73.11 355.63L74.30 352.51L75.49 352.35L76.68 351.59L77.87 351.53L79.06 351.11L80.25 351.50L81.44 349.98L82.63 349.55L83.82 348.40L85.01 348.25L86.20 348.91L87.39 349.02L88.58 349.08L89.77 349.53L90.96 347.78L92.15 348.10L93.34 348.52L94.53 346.96L95.73 346.25L96.92 344.74L98.11 343.68L99.30 340.82L100.49 340.88L101.68 338.98L102.87 341.53L104.06 341.48L105.25 343.57L106.44 344.22L107.63 347.33L108.82 348.26L110.01 350.47L111.20 351.96L112.39 352.33L113.58 351.90L114.77 350.75L115.96 349.55L117.15 348.63L118.34 348.30L119.54 348.11L120.73 347.84L121.92 346.43L123.11 344.85L124.30 341.15L125.49 337.71L126.68 335.19L127.87 331.33L129.06 328.26L130.25 326.85L131.44 324.37L132.63 323.19L133.82 321.09L135.01 321.49L136.20 323.84L137.39 326.54L138.58 328.45L139.77 331.00L140.96 333.11L142.15 333.25L143.35 334.27L144.54 334.81L145.73 337.68L146.92 336.80L148.11 337.87L149.30 338.79L150.49 339.61L151.68 339.59L152.87 341.20L154.06 342.69L155.25 344.45L156.44 345.13L157.63 346.57L158.82 348.10L160.01 348.51L161.20 347.51L162.39 347.77L163.58 348.01L164.77 349.25L165.96 350.68L167.16 352.71L168.35 352.20L169.54 352.16L170.73 351.66L171.92 350.62L173.11 349.25L174.30 349.57L175.49 348.88L176.68 348.00L177.87 346.80L179.06 345.23L180.25 342.93L181.44 341.66L182.63 337.31L183.82 334.58L185.01 333.39L186.20 330.81L187.39 329.14L188.58 331.24L189.77 332.60L190.97 334.91L192.16 339.54L193.35 342.07L194.54 344.08L195.73 345.90L196.92 344.76L198.11 339.77L199.30 335.71L200.49 330.35L201.68 325.11L202.87 321.54L204.06 322.91L205.25 323.03L206.44 326.80L207.63 329.10L208.82 328.53L210.01 326.52L211.20 325.15L212.39 323.17L213.58 321.90L214.78 320.22L215.97 322.32L217.16 321.25L218.35 318.54L219.54 314.55L220.73 316.58L221.92 316.07L223.11 318.08L224.30 321.49L225.49 325.09L226.68 326.82L227.87 327.16L229.06 327.45L230.25 327.32L231.44 327.85L232.63 329.55L233.82 333.23L235.01 335.91L236.20 337.86L237.39 341.93L238.59 343.03L239.78 343.39L240.97 342.94L242.16 342.77L243.35 341.21L244.54 340.91L245.73 339.16L246.92 336.99L248.11 335.35L249.30 333.98L250.49 334.90L251.68 336.72L252.87 339.15L254.06 340.95L255.25 342.32L256.44 340.29L257.63 339.20L258.82 338.98L260.01 340.03L261.21 341.51L262.40 344.37L263.59 347.24L264.78 349.15L265.97 351.15L267.16 353.71L268.35 355.22L269.54 356.72L270.73 357.27L271.92 358.38L273.11 357.48L274.30 356.89L275.49 356.43L276.68 356.05L277.87 355.89L279.06 356.25L280.25 355.95L281.44 355.39L282.63 355.93L283.82 355.99L285.02 356.35L286.21 356.81L287.40 357.67L288.59 357.83L289.78 357.48L290.97 357.64L292.16 358.46L293.35 359.12L294.54 359.59L295.73 360.37L296.92 361.05L298.11 361.74L299.30 361.82L300.49 361.81L301.68 361.48L302.87 360.83L304.06 360.41L305.25 360.29L306.44 359.35L307.63 358.51L308.83 358.31L310.02 357.99L311.21 357.18L312.40 356.62L313.59 355.88L314.78 354.58L315.97 353.78L317.16 352.60L318.35 351.95L319.54 351.84L320.73 352.86L321.92 352.88L323.11 354.29L324.30 355.08L325.49 355.92L326.68 355.51L327.87 355.64L329.06 355.40L330.25 356.21L331.44 356.68L332.64 356.68L333.83 356.47L335.02 355.10L336.21 353.74L337.40 353.20L338.59 353.93L339.78 354.84L340.97 356.58L342.16 357.73L343.35 358.39L344.54 358.66L345.73 358.46L346.92 359.00L348.11 359.26L349.30 359.14L350.49 358.37L351.68 357.86L352.87 356.71L354.06 355.99L355.25 355.35L356.45 353.99L357.64 353.98L358.83 354.50L360.02 354.97L361.21 355.49L362.40 355.95L363.59 355.67L364.78 355.38L365.97 354.77L367.16 354.05L368.35 353.61L369.54 353.25L370.73 352.16L371.92 351.50L373.11 349.49L374.30 349.35L375.49 348.78L376.68 348.62L377.87 349.15L379.06 350.61L380.26 350.79L381.45 351.17L382.64 351.92L383.83 351.14L385.02 351.08L386.21 350.91L387.40 350.75L388.59 350.75L389.78 351.16L390.97 351.11L392.16 350.72L393.35 350.48L394.54 349.62L395.73 349.09L396.92 349.20L398.11 348.00L399.30 346.70L400.49 346.31L401.68 345.85L402.87 345.19L404.07 345.01L405.26 346.01L406.45 345.12L407.64 345.19L408.83 344.38L410.02 344.98L411.21 344.42L412.40 344.60L413.59 344.90L414.78 346.26L415.97 345.22L417.16 345.63L418.35 346.87L419.54 346.41L420.73 346.99L421.92 347.83L423.11 348.40L424.30 348.37L425.49 349.57L426.68 349.00L427.88 349.74L429.07 349.35L430.26 349.63L431.45 348.84L432.64 348.18L433.83 346.47L435.02 345.69L436.21 344.66L437.40 344.60L438.59 344.75L439.78 345.23L440.97 345.27L442.16 345.28L443.35 344.61L444.54 343.49L445.73 343.43L446.92 341.67L448.11 339.97L449.30 339.87L450.49 340.52L451.69 341.42L452.88 342.48L454.07 343.96L455.26 344.97L456.45 346.65L457.64 347.68L458.83 348.32L460.02 348.59L461.21 348.82L462.40 348.78L463.59 348.55L464.78 349.35L465.97 349.67L467.16 349.43L468.35 349.05L469.54 347.39L470.73 346.33L471.92 346.12L473.11 345.95L474.31 345.91L475.50 347.00L476.69 348.27L477.88 346.99L479.07 347.72L480.26 347.44L481.45 348.46L482.64 348.59L483.83 350.42L485.02 351.23L486.21 352.28L487.40 351.80L488.59 351.75L489.78 351.14L490.97 350.91L492.16 349.94L493.35 349.48L494.54 348.36L495.73 348.20L496.92 345.35L498.12 344.96L499.31 344.53L500.50 343.83L501.69 341.18L502.88 341.19L504.07 340.95L505.26 340.70L506.45 340.61L507.64 342.50L508.83 343.89L510.02 340.94L511.21 341.21L512.40 341.40L513.59 341.70L514.78 342.80L515.97 347.51L517.16 348.85L518.35 350.50L519.54 352.43L520.73 353.24L521.93 351.67L523.12 350.08L524.31 349.35L525.50 349.30L526.69 348.55L527.88 349.68L529.07 350.04L530.26 350.06L531.45 349.46L532.64 349.11L533.83 348.73L535.02 349.08L536.21 349.06L537.40 348.84L538.59 349.71L539.78 350.40L540.97 350.25L542.16 350.76L543.35 350.83L544.54 351.62L545.74 352.30L546.93 353.52L548.12 353.92L549.31 354.95L550.50 354.89L551.69 354.86L552.88 355.16L554.07 355.98L555.26 356.07L556.45 356.59L557.64 357.45L558.83 358.15L560.02 357.77L561.21 358.18L562.40 357.98L563.59 357.60L564.78 356.42L565.97 356.46L567.16 356.13L568.35 355.85L569.55 355.45L570.74 355.30L571.93 355.03L573.12 355.41L574.31 355.49L575.50 355.71L576.69 356.66L577.88 357.67L579.07 358.29L580.26 359.04L581.45 359.74L582.64 359.42L583.83 358.52L585.02 357.55L586.21 356.74L587.40 356.07L588.59 355.84L589.78 355.03L590.97 354.30L592.16 353.56L593.36 353.14L594.55 352.37L595.74 351.96L596.93 350.70L598.12 346.68L599.31 343.74L600.50 342.13L601.69 339.64L602.88 335.42L604.07 335.12L605.26 333.80L606.45 332.34L607.64 332.05L608.83 333.80L610.02 335.58L611.21 337.52L612.40 338.94L613.59 341.12L614.78 341.23L615.97 342.76L617.17 344.35L618.36 345.25L619.55 345.76L620.74 348.06L621.93 347.06L623.12 348.26L624.31 350.12L625.50 351.71L626.69 352.64L627.88 354.99L629.07 355.22L630.26 354.84L631.45 355.45L632.64 356.42L633.83 356.43L635.02 357.45L636.21 358.74L637.40 358.41L638.59 357.89L639.78 358.27L640.98 358.02L642.17 357.28L643.36 355.52L644.55 354.25L645.74 352.74L646.93 348.84L648.12 346.96L649.31 346.76L650.50 345.54L651.69 345.32L652.88 347.94L654.07 348.99L655.26 349.18L656.45 350.12L657.64 351.14L658.83 352.54L660.02 353.48L661.21 354.52L662.40 355.17L663.59 354.99L664.79 354.56L665.98 352.89L667.17 352.85L668.36 352.89L669.55 353.22L670.74 353.74L671.93 355.44L673.12 355.79L674.31 356.04L675.50 356.58L676.69 356.87L677.88 357.95L679.07 359.14L680.26 359.29L681.45 357.36L682.64 356.26L683.83 355.61L685.02 354.37L686.21 353.49L687.41 352.61L688.60 352.09L689.79 350.24L690.98 349.25L692.17 346.70L693.36 346.33L694.55 342.86L695.74 341.37L696.93 341.24L698.12 341.61L699.31 342.41L700.50 344.66L701.69 345.08L702.88 343.54L704.07 343.61L705.26 339.95L706.45 338.86L707.64 337.44L708.83 337.21L710.02 336.36L711.22 337.28L712.41 337.76L713.60 338.11L714.79 338.12L715.98 337.90L717.17 338.90L718.36 339.12L719.55 340.75L720.74 341.51L721.93 342.12L723.12 342.58L724.31 342.81L725.50 342.66L726.69 342.20L727.88 341.67L729.07 341.64L730.26 341.45L731.45 341.56L732.64 341.68L733.83 342.63L735.03 342.74L736.22 343.64L737.41 343.49L738.60 344.32L739.79 344.66L740.98 345.81L742.17 346.94L743.36 348.26L744.55 349.63L745.74 350.33L746.93 350.41L748.12 350.91L749.31 351.54L750.50 351.51L751.69 352.28L752.88 351.89L754.07 351.88L755.26 352.04L756.45 352.86L757.64 352.45L758.84 353.44L760.03 352.40L761.22 351.38L762.41 351.36L763.60 352.07L764.79 351.90L765.98 353.13L767.17 353.64L768.36 353.17L769.55 352.71L770.74 351.99L771.93 351.22L773.12 351.90L774.31 351.37L775.50 350.05L776.69 350.83L777.88 349.70L779.07 349.46L780.26 349.97L781.45 350.82L782.65 350.24L783.84 350.26L785.03 349.54L786.22 348.56L787.41 348.13L788.60 348.72L789.79 349.42L790.98 349.38L792.17 349.30L793.36 350.05L794.55 349.08L795.74 349.01L796.93 348.71L798.12 348.04L799.31 347.01L800.50 347.03L801.69 346.67L802.88 346.34L804.07 346.61L805.26 347.16L806.46 345.34L807.65 345.27L808.84 344.33L810.03 344.22L811.22 343.49L812.41 344.56L813.60 344.72L814.79 345.68L815.98 345.92L817.17 345.34L818.36 346.00L819.55 346.27L820.74 345.79L821.93 345.40L823.12 344.90L824.31 345.03L825.50 345.00L826.69 346.31L827.88 347.25L829.07 348.47L830.27 348.18L831.46 347.99L832.65 347.64L833.84 345.38L835.03 344.77L836.22 344.75L837.41 345.29L838.60 345.38L839.79 347.46L840.98 349.09L842.17 349.71L843.36 349.54L844.55 349.56L845.74 350.18L846.93 350.23L848.12 351.45L849.31 352.68L850.50 354.76L851.69 354.85L852.88 355.85L854.08 356.21L855.27 356.32L856.46 354.75L857.65 355.41L858.84 355.48L860.03 354.26L861.22 352.85L862.41 352.25L863.60 352.16L864.79 351.89L865.98 352.62L867.17 353.97L868.36 355.67L869.55 356.10L870.74 356.82L871.93 357.34L873.12 357.87L874.31 358.16L875.50 358.63L876.69 358.46L877.89 358.24L879.08 358.59L880.27 357.80L881.46 356.94L882.65 357.13L883.84 357.72L885.03 357.18L886.22 358.52L887.41 359.69L888.60 360.87" stroke="#111" stroke-width="1" fill="none" stroke-linejoin="round"/>
<path d="M36.20 267.58V269.22M37.39 263.19V268.52M38.58 260.73V265.52M39.77 263.27V264.84M40.96 263.82V266.84M42.15 265.37V267.98M43.34 264.68V267.88M44.53 261.50V266.42M45.72 262.87V265.21M46.91 264.00V267.08M48.11 263.78V268.25M49.30 265.91V268.85M50.49 267.54V269.66M51.68 268.02V272.18M52.87 268.65V270.20M54.06 267.64V271.42M55.25 268.74V272.51M56.44 271.25V275.21M57.63 273.49V278.02M58.82 274.81V276.96M60.01 275.81V281.25M61.20 279.07V282.55M62.39 279.74V282.58M63.58 280.01V283.00M64.77 278.08V282.36M65.96 277.00V280.62M67.15 278.00V281.47M68.34 275.06V281.16M69.53 278.19V281.36M70.72 276.49V280.18M71.92 275.65V280.44M73.11 277.73V280.15M74.30 273.87V279.45M75.49 272.49V277.49M76.68 270.21V275.41M77.87 270.78V273.43M79.06 271.05V272.86M80.25 271.36V278.41M81.44 272.43V276.86M82.63 269.43V274.57M83.82 269.93V272.35M85.01 267.68V271.41M86.20 265.58V270.27M87.39 265.89V269.10M88.58 263.56V267.30M89.77 262.68V266.06M90.96 262.99V266.35M92.15 264.83V267.00M93.34 262.16V266.40M94.53 260.62V268.94M95.73 261.95V265.85M96.92 260.69V264.18M98.11 261.83V266.72M99.30 262.17V265.50M100.49 260.94V267.09M101.68 259.27V265.43M102.87 257.48V261.68M104.06 258.85V260.64M105.25 255.91V260.08M106.44 255.68V259.25M107.63 252.50V259.02M108.82 257.11V260.59M110.01 258.41V264.52M111.20 261.40V264.65M112.39 259.89V263.71M113.58 258.08V262.60M114.77 257.91V260.64M115.96 257.41V259.83M117.15 258.30V260.00M118.34 256.82V260.06M119.54 258.48V262.54M120.73 258.75V261.95M121.92 256.04V260.82M123.11 255.12V258.61M124.30 252.96V257.56M125.49 249.63V254.98M126.68 247.09V251.43M127.87 244.91V249.36M129.06 243.29V246.96M130.25 239.84V244.61M131.44 240.59V244.30M132.63 235.74V243.14M133.82 236.00V245.81M135.01 239.27V244.88M136.20 241.49V245.29M137.39 241.61V244.05M138.58 240.07V244.33M139.77 237.41V244.19M140.96 235.11V240.02M142.15 234.50V237.78M143.35 231.55V236.74M144.54 230.45V237.07M145.73 235.29V240.23M146.92 237.43V241.83M148.11 237.06V240.63M149.30 236.70V239.86M150.49 238.31V242.79M151.68 237.08V241.19M152.87 235.85V238.74M154.06 233.49V240.45M155.25 235.76V240.60M156.44 237.01V242.30M157.63 239.28V242.83M158.82 238.76V242.21M160.01 240.01V244.14M161.20 237.11V243.21M162.39 238.37V240.08M163.58 231.08V239.22M164.77 234.31V237.74M165.96 230.97V236.21M167.16 229.76V233.71M168.35 231.27V233.89M169.54 232.08V234.97M170.73 232.75V235.67M171.92 230.84V234.90M173.11 232.05V236.02M174.30 230.16V234.60M175.49 228.40V232.74M176.68 226.38V230.21M177.87 224.37V229.94M179.06 220.92V228.00M180.25 218.00V222.93M181.44 213.50V221.73M182.63 217.59V222.85M183.82 218.98V223.90M185.01 221.93V230.33M186.20 226.69V232.06M187.39 230.81V235.63M188.58 231.96V237.96M189.77 233.06V239.48M190.97 231.58V236.13M192.16 227.48V232.65M193.35 221.68V229.31M194.54 223.04V226.44M195.73 221.97V226.51M196.92 222.71V228.96M198.11 225.19V231.90M199.30 229.40V233.97M200.49 230.12V233.95M201.68 230.76V236.41M202.87 226.28V232.29M204.06 226.55V230.36M205.25 221.33V228.42M206.44 220.43V227.68M207.63 218.98V224.20M208.82 219.13V222.82M210.01 220.91V230.09M211.20 222.49V227.07M212.39 219.95V225.64M213.58 217.57V223.76M214.78 216.10V219.06M215.97 214.63V218.18M217.16 213.97V219.31M218.35 214.16V221.16M219.54 213.25V216.72M220.73 213.20V216.56M221.92 208.42V214.57M223.11 210.09V213.59M224.30 209.00V213.07M225.49 207.30V213.95M226.68 203.68V210.64M227.87 204.01V209.22M229.06 206.06V212.02M230.25 209.07V212.67M231.44 209.87V216.26M232.63 210.16V215.41M233.82 206.25V212.82M235.01 208.32V214.00M236.20 207.77V218.11M237.39 212.26V216.27M238.59 212.58V215.86M239.78 213.08V215.09M240.97 211.98V217.23M242.16 212.63V216.50M243.35 212.26V215.66M244.54 211.19V214.49M245.73 209.67V215.33M246.92 206.58V212.02M248.11 205.75V209.84M249.30 198.97V210.79M250.49 204.29V208.13M251.68 204.21V206.85M252.87 199.38V208.44M254.06 203.95V208.08M255.25 204.91V208.70M256.44 201.59V207.18M257.63 196.04V203.56M258.82 196.58V202.89M260.01 196.83V203.02M261.21 198.57V204.35M262.40 198.01V202.41M263.59 196.84V201.19M264.78 196.26V201.74M265.97 189.54V198.31M267.16 186.58V194.73M268.35 190.86V195.73M269.54 186.01V193.52M270.73 188.75V196.52M271.92 193.75V199.28M273.11 196.73V201.03M274.30 198.97V203.58M275.49 200.51V207.76M276.68 204.62V208.99M277.87 206.23V212.03M279.06 208.07V215.60M280.25 210.94V218.03M281.44 213.24V217.36M282.63 214.38V218.40M283.82 209.88V216.48M285.02 207.17V212.20M286.21 203.33V209.32M287.40 201.92V207.32M288.59 205.36V211.33M289.78 207.85V212.76M290.97 209.06V214.40M292.16 212.03V216.28M293.35 210.55V214.10M294.54 207.34V214.65M295.73 204.66V211.26M296.92 204.02V207.98M298.11 196.65V203.27M299.30 196.76V200.71M300.49 192.45V199.14M301.68 186.52V194.67M302.87 183.99V191.95M304.06 182.59V189.89M305.25 180.73V188.17M306.44 180.53V187.99M307.63 183.38V190.04M308.83 187.23V193.27M310.02 189.92V194.84M311.21 186.73V192.63M312.40 181.67V187.76M313.59 176.00V185.04M314.78 180.36V185.11M315.97 182.53V186.76M317.16 175.47V185.57M318.35 171.05V179.97M319.54 172.75V177.68M320.73 171.16V185.54M321.92 175.45V182.23M323.11 178.62V185.50M324.30 181.49V193.26M325.49 176.71V187.54M326.68 169.00V179.26M327.87 168.70V176.03M329.06 173.28V182.23M330.25 189.06V196.20M331.44 190.15V195.55M332.64 192.65V198.87M333.83 194.82V200.42M335.02 193.31V199.44M336.21 188.93V196.87M337.40 188.60V193.12M338.59 185.94V190.47M339.78 187.45V195.55M340.97 191.93V196.75M342.16 194.78V201.16M343.35 197.88V205.68M344.54 197.90V202.67M345.73 195.06V200.49M346.92 190.87V198.28M348.11 186.50V195.85M349.30 186.89V198.50M350.49 185.42V190.50M351.68 179.94V187.54M352.87 177.98V183.59M354.06 177.10V183.79M355.25 173.64V188.36M356.45 183.31V191.29M357.64 179.28V187.73M358.83 178.22V186.39M360.02 175.09V181.95M361.21 169.73V176.38M362.40 169.47V174.48M363.59 166.35V174.94M364.78 158.19V170.08M365.97 158.00V166.20M367.16 158.13V164.38M368.35 161.63V171.69M369.54 162.53V167.74M370.73 158.92V164.78M371.92 161.18V169.51M373.11 166.51V176.82M374.30 173.50V184.18M375.49 181.81V189.34M376.68 180.08V185.71M377.87 178.34V185.28M379.06 176.52V184.95M380.26 181.19V186.02M381.45 180.45V184.39M382.64 176.14V182.55M383.83 173.18V179.97M385.02 164.35V175.49M386.21 165.59V172.29M387.40 169.04V176.84M388.59 173.37V178.88M389.78 177.24V182.58M390.97 179.28V188.45M392.16 176.07V186.86M393.35 198.09V200.31M394.54 198.17V205.18M395.73 201.98V210.50M396.92 204.68V208.72M398.11 204.47V207.56M399.30 199.71V205.72M400.49 198.38V202.68M401.68 199.35V204.42M402.87 198.32V204.54M404.07 197.73V202.66M405.26 194.15V203.41M406.45 190.75V198.04M407.64 187.57V194.38M408.83 181.35V192.04M410.02 179.35V188.04M411.21 177.54V183.51M412.40 180.76V188.91M413.59 180.55V190.41M414.78 176.46V184.59M415.97 173.95V180.50M417.16 175.43V178.93M418.35 174.23V181.48M419.54 170.92V176.72M420.73 166.98V174.04M421.92 165.50V169.48M423.11 166.63V171.54M424.30 165.18V171.24M425.49 168.16V172.47M426.68 164.86V170.85M427.88 159.73V167.35M429.07 158.66V163.40M430.26 156.52V164.33M431.45 156.21V160.73M432.64 157.40V160.63M433.83 158.15V167.93M435.02 162.46V169.42M436.21 166.45V175.18M437.40 160.76V171.26M438.59 158.90V166.59M439.78 159.11V165.40M440.97 160.40V165.61M442.16 151.72V163.60M443.35 148.58V158.00M444.54 146.13V152.34M445.73 142.13V150.62M446.92 144.14V153.35M448.11 148.15V154.30M449.30 152.66V160.75M450.49 156.59V165.40M451.69 156.79V165.67M452.88 159.63V164.13M454.07 155.68V165.00M455.26 151.49V159.18M456.45 144.99V155.19M457.64 146.00V155.58M458.83 152.47V161.81M460.02 149.46V156.06M461.21 153.47V162.96M462.40 157.99V169.38M463.59 156.06V160.72M464.78 153.29V161.35M465.97 153.16V156.37M467.16 150.57V155.14M468.35 150.27V154.20M469.54 152.55V157.20M470.73 154.94V160.38M471.92 155.16V159.39M473.11 151.84V157.09M474.31 148.55V155.08M475.50 151.27V157.30M476.69 154.03V159.59M477.88 147.21V158.27M479.07 145.08V154.18M480.26 147.55V156.53M481.45 147.72V154.75M482.64 144.66V152.93M483.83 140.54V149.56M485.02 115.84V127.67M486.21 116.49V129.09M487.40 122.97V129.88M488.59 127.41V134.98M489.78 122.99V134.60M490.97 123.66V135.65M492.16 117.02V129.14M493.35 117.19V124.91M494.54 113.18V120.78M495.73 109.59V117.22M496.92 111.97V124.60M498.12 119.02V127.21M499.31 118.47V126.65M500.50 118.21V125.83M501.69 120.30V131.76M502.88 122.32V129.33M504.07 118.51V129.35M505.26 114.01V123.90M506.45 117.11V126.33M507.64 113.03V128.24M508.83 116.94V131.00M510.02 125.20V138.86M511.21 135.74V151.17M512.40 134.31V145.46M513.59 130.57V139.20M514.78 128.25V137.67M515.97 128.65V138.60M517.16 128.31V132.52M518.35 125.44V132.75M519.54 125.59V132.16M520.73 120.52V128.78M521.93 117.84V132.24M523.12 120.54V127.01M524.31 124.80V135.15M525.50 126.71V135.02M526.69 125.48V134.11M527.88 125.61V133.97M529.07 131.06V144.40M530.26 135.89V151.56M531.45 141.55V150.68M532.64 143.65V147.65M533.83 138.21V146.56M535.02 131.27V141.47M536.21 133.10V143.52M537.40 135.76V141.36M538.59 138.19V148.12M539.78 144.84V155.41M540.97 149.05V156.63M542.16 153.86V165.75M543.35 159.81V169.50M544.54 158.78V167.90M545.74 154.93V164.77M546.93 158.95V166.23M548.12 160.85V165.41M549.31 152.14V163.78M550.50 151.83V159.98M551.69 147.64V154.96M552.88 145.48V151.99M554.07 145.30V151.57M555.26 144.43V151.70M556.45 140.10V155.12M557.64 146.90V149.96M558.83 142.73V149.31M560.02 139.17V144.67M561.21 138.87V144.32M562.40 140.48V143.72M563.59 135.18V143.82M564.78 132.60V140.15M565.97 131.46V138.18M567.16 134.11V139.74M568.35 131.26V139.08M569.55 124.15V138.36M570.74 125.62V139.19M571.93 122.85V128.71M573.12 119.11V128.87M574.31 118.78V123.26M575.50 112.29V124.14M576.69 116.88V120.56M577.88 117.82V124.21M579.07 117.48V122.57M580.26 105.85V120.67M581.45 103.41V110.46M582.64 93.70V108.79M583.83 100.73V109.54M585.02 103.08V124.39M586.21 103.74V113.86M587.40 100.57V109.52M588.59 101.90V112.20M589.78 99.80V115.72M590.97 97.19V108.98M592.16 100.70V105.10M593.36 90.04V103.35M594.55 85.28V98.10M595.74 84.25V92.38M596.93 71.58V91.66M598.12 70.98V80.89M599.31 63.75V75.72M600.50 64.93V76.84M601.69 55.65V71.83M602.88 35.63V59.18M604.07 33.30V47.04M605.26 41.86V59.64M606.45 53.68V67.22M607.64 47.27V66.52M608.83 37.71V61.26M610.02 45.67V59.51M611.21 50.60V62.81M612.40 58.02V71.70M613.59 63.74V76.33M614.78 72.42V92.03M615.97 71.40V82.57M617.17 77.83V88.52M618.36 81.21V100.00M619.55 78.01V87.05M620.74 68.70V83.64M621.93 60.62V76.24M623.12 66.50V75.14M624.31 70.76V81.26M625.50 75.29V94.02M626.69 71.40V86.44M627.88 69.72V88.08M629.07 80.08V87.63M630.26 80.09V100.80M631.45 81.01V85.96M632.64 77.71V84.59M633.83 78.84V89.28M635.02 69.34V82.43M636.21 66.06V80.65M637.40 65.90V75.92M638.59 60.43V70.08M639.78 53.41V66.98M640.98 48.09V60.64M642.17 51.37V65.40M643.36 54.88V67.33M644.55 51.50V66.40M645.74 51.05V65.84M646.93 39.83V57.53M648.12 45.72V64.75M649.31 33.29V61.54M650.50 28.94V44.18M651.69 31.05V45.13M652.88 31.45V59.98M654.07 42.30V56.64M655.26 48.66V57.20M656.45 46.02V64.75M657.64 44.30V60.96M658.83 40.45V57.86M660.02 42.34V55.85M661.21 43.42V63.43M662.40 52.83V64.02M663.59 54.82V63.92M664.79 53.95V72.28M665.98 49.64V60.37M667.17 46.71V57.25M668.36 37.14V56.46M669.55 34.87V56.16M670.74 33.01V50.06M671.93 36.70V54.39M673.12 41.27V58.60M674.31 39.03V58.26M675.50 42.43V59.25M676.69 43.50V49.31M677.88 33.98V51.12M679.07 39.20V56.38M680.26 33.50V49.05M681.45 44.69V60.89M682.64 50.80V66.03M683.83 50.20V69.00M685.02 61.80V74.76M686.21 65.78V79.02M687.41 71.17V79.58M688.60 76.17V89.90M689.79 81.75V99.48M690.98 86.57V102.60M692.17 99.91V113.57M693.36 109.42V125.32M694.55 118.96V136.70M695.74 115.26V123.62M696.93 114.39V124.35M698.12 118.22V121.90M699.31 114.96V121.94M700.50 118.95V133.22M701.69 130.12V144.15M702.88 139.90V149.54M704.07 148.05V162.48M705.26 156.37V175.00M706.45 153.92V165.19M707.64 154.00V163.01M708.83 159.91V170.53M710.02 166.00V176.04M711.22 172.99V185.80M712.41 178.31V181.27M713.60 173.47V179.97M714.79 160.71V176.01M715.98 163.53V171.63M717.17 165.84V170.35M718.36 168.44V174.62M719.55 171.82V174.93M720.74 171.13V173.77M721.93 166.80V175.81M723.12 162.35V170.72M724.31 146.94V165.71M725.50 145.00V164.45M726.69 153.00V160.99M727.88 158.16V164.11M729.07 162.48V178.31M730.26 169.04V174.11M731.45 166.37V171.92M732.64 159.53V172.58M733.83 154.97V163.49M735.03 154.38V159.58M736.22 150.98V160.87M737.41 147.71V155.10M738.60 144.29V151.29M739.79 146.78V155.25M740.98 150.83V156.60M742.17 153.02V159.63M743.36 152.45V160.19M744.55 148.17V157.72M745.74 143.50V152.90M746.93 145.40V151.66M748.12 145.55V152.22M749.31 144.57V148.66M750.50 143.34V153.69M751.69 148.52V152.12M752.88 149.55V156.61M754.07 151.38V158.37M755.26 155.39V165.62M756.45 157.36V168.72M757.64 164.15V170.09M758.84 168.60V175.05M760.03 170.93V173.55M761.22 171.72V180.39M762.41 167.32V175.01M763.60 168.23V170.93M764.79 166.73V171.26M765.98 164.23V176.21M767.17 167.30V176.21M768.36 170.82V179.94M769.55 171.43V175.78M770.74 169.54V175.10M771.93 171.36V180.45M773.12 175.27V187.00M774.31 176.45V181.40M775.50 188.00V196.00M776.69 190.00V201.50M777.88 188.50V197.63M779.07 189.04V195.35M780.26 176.05V182.53M781.45 172.60V179.85M782.65 172.68V180.39M783.84 174.05V186.03M785.03 173.50V186.28M786.22 168.23V179.00M787.41 165.06V171.65M788.60 162.72V171.20M789.79 159.61V165.75M790.98 160.83V163.81M792.17 159.33V164.96M793.36 159.42V171.55M794.55 156.04V164.17M795.74 158.78V167.19M796.93 162.18V174.20M798.12 163.52V168.18M799.31 154.88V165.60M800.50 149.29V158.71M801.69 147.70V154.14M802.88 145.09V156.42M804.07 149.79V157.10M805.26 152.29V155.77M806.46 153.85V164.88M807.65 154.15V163.46M808.84 149.86V158.45M810.03 150.19V158.39M811.22 154.85V164.99M812.41 160.96V166.43M813.60 163.03V169.17M814.79 163.11V173.32M815.98 170.65V175.00M817.17 166.83V172.44M818.36 161.89V169.87M819.55 161.63V166.30M820.74 155.02V164.56M821.93 152.34V158.13M823.12 150.20V155.11M824.31 147.38V153.68M825.50 145.54V151.48M826.69 148.37V154.19M827.88 152.79V159.31M829.07 156.02V164.13M830.27 153.72V163.87M831.46 161.90V165.06M832.65 161.82V169.55M833.84 164.53V176.43M835.03 171.16V181.00M836.22 170.59V177.03M837.41 167.77V174.61M838.60 164.36V175.61M839.79 170.29V174.21M840.98 167.35V182.49M842.17 172.25V176.96M843.36 173.49V180.53M844.55 175.87V179.70M845.74 171.77V178.43M846.93 165.46V174.28M848.12 161.44V169.06M849.31 161.13V168.45M850.50 154.37V166.41M851.69 157.47V163.24M852.88 157.91V166.67M854.08 160.98V170.58M855.27 159.26V168.87M856.46 160.55V170.57M857.65 164.58V172.29M858.84 166.69V174.60M860.03 170.76V176.27M861.22 167.98V178.89M862.41 173.43V179.55M863.60 171.95V179.61M864.79 173.65V182.47M865.98 169.04V175.54M867.17 170.98V174.38M868.36 168.31V173.66M869.55 166.76V172.77M870.74 167.47V173.95M871.93 169.78V179.17M873.12 171.40V178.08M874.31 172.24V182.16M875.50 170.21V176.14M876.69 164.78V174.89M877.89 167.08V177.78M879.08 164.28V172.73M880.27 167.97V173.89M881.46 168.59V172.66M882.65 169.00V175.69M883.84 168.50V174.06M885.03 162.76V180.85M886.22 157.77V170.12M887.41 161.48V167.64M888.60 157.88V163.17" stroke="#838383" stroke-width="1.15" fill="none"/>
<path d="M36.20 268.22L37.39 265.12L38.58 263.57L39.77 264.12L40.96 265.67L42.15 267.48L43.34 266.12L44.53 263.17L45.72 264.30L46.91 265.71L48.11 266.61L49.30 267.84L50.49 269.05L51.68 268.95L52.87 269.55L54.06 269.04L55.25 271.80L56.44 273.79L57.63 276.21L58.82 276.11L60.01 280.48L61.20 280.54L62.39 281.24L63.58 282.06L64.77 278.57L65.96 278.30L67.15 280.86L68.34 278.49L69.53 279.88L70.72 278.19L71.92 278.32L73.11 279.15L74.30 274.70L75.49 275.11L76.68 271.87L77.87 272.23L79.06 271.66L80.25 274.44L81.44 274.27L82.63 271.22L83.82 271.11L85.01 269.03L86.20 268.80L87.39 266.71L88.58 264.97L89.77 264.08L90.96 265.23L92.15 266.10L93.34 263.52L94.53 262.25L95.73 263.88L96.92 262.13L98.11 263.20L99.30 264.33L100.49 262.76L101.68 261.38L102.87 259.15L104.06 259.72L105.25 258.02L106.44 258.03L107.63 258.00L108.82 258.71L110.01 262.40L111.20 263.41L112.39 260.92L113.58 259.87L114.77 259.03L115.96 258.60L117.15 259.11L118.34 258.78L119.54 261.65L120.73 260.52L121.92 258.31L123.11 256.74L124.30 254.68L125.49 251.13L126.68 249.06L127.87 246.66L129.06 244.31L130.25 242.07L131.44 242.84L132.63 241.10L133.82 240.62L135.01 241.79L136.20 243.75L137.39 242.59L138.58 241.47L139.77 239.72L140.96 237.10L142.15 235.76L143.35 235.10L144.54 235.59L145.73 237.73L146.92 239.82L148.11 238.67L149.30 238.61L150.49 240.15L151.68 238.44L152.87 236.90L154.06 236.33L155.25 237.31L156.44 239.99L157.63 241.06L158.82 240.31L160.01 242.91L161.20 239.55L162.39 238.92L163.58 235.66L164.77 235.91L165.96 232.79L167.16 231.78L168.35 232.38L169.54 233.64L170.73 233.77L171.92 232.59L173.11 234.30L174.30 232.44L175.49 229.91L176.68 227.58L177.87 227.39L179.06 222.63L180.25 219.39L181.44 217.89L182.63 219.28L183.82 222.23L185.01 226.99L186.20 231.11L187.39 233.52L188.58 235.25L189.77 235.83L190.97 232.35L192.16 229.01L193.35 226.14L194.54 224.42L195.73 223.78L196.92 225.49L198.11 229.82L199.30 231.34L200.49 231.70L201.68 231.99L202.87 229.21L204.06 228.12L205.25 224.82L206.44 222.72L207.63 221.73L208.82 221.51L210.01 222.79L211.20 224.25L212.39 223.46L213.58 218.76L214.78 217.88L215.97 215.35L217.16 215.89L218.35 215.58L219.54 214.75L220.73 214.27L221.92 210.39L223.11 211.54L224.30 210.96L225.49 209.24L226.68 206.01L227.87 207.01L229.06 211.02L230.25 210.71L231.44 213.11L232.63 212.52L233.82 209.74L235.01 211.96L236.20 212.56L237.39 214.88L238.59 213.98L239.78 213.70L240.97 213.72L242.16 215.27L243.35 214.07L244.54 212.77L245.73 211.72L246.92 209.54L248.11 206.94L249.30 207.83L250.49 205.90L251.68 205.77L252.87 204.80L254.06 206.30L255.25 206.88L256.44 203.26L257.63 198.93L258.82 198.81L260.01 199.39L261.21 202.11L262.40 200.89L263.59 198.17L264.78 198.01L265.97 194.43L267.16 191.41L268.35 193.22L269.54 189.05L270.73 194.05L271.92 197.03L273.11 199.27L274.30 200.81L275.49 206.25L276.68 206.80L277.87 209.16L279.06 211.24L280.25 213.54L281.44 214.68L282.63 216.18L283.82 211.90L285.02 209.02L286.21 206.54L287.40 205.66L288.59 208.16L289.78 209.36L290.97 212.36L292.16 213.80L293.35 212.77L294.54 210.96L295.73 207.68L296.92 205.53M298.11 198.09L299.30 198.84L300.49 194.37L301.68 191.65L302.87 188.41L304.06 187.27L305.25 185.77L306.44 184.81L307.63 187.78L308.83 190.82L310.02 192.33L311.21 187.46L312.40 184.30L313.59 180.66L314.78 183.31L315.97 185.27L317.16 179.67L318.35 173.05L319.54 174.51L320.73 176.86L321.92 179.88L323.11 181.79L324.30 187.24L325.49 178.96L326.68 172.47L327.87 173.58L329.06 177.94M330.25 192.53L331.44 193.54L332.64 195.12L333.83 198.98L335.02 196.57L336.21 191.90L337.40 190.17L338.59 187.75L339.78 192.23L340.97 195.08L342.16 198.18L343.35 202.37L344.54 200.19L345.73 197.98L346.92 195.55L348.11 191.23L349.30 189.83L350.49 187.24L351.68 183.29L352.87 180.39L354.06 180.92L355.25 184.89L356.45 186.78L357.64 183.82L358.83 181.65L360.02 176.08L361.21 171.44L362.40 171.45L363.59 169.78L364.78 164.05L365.97 160.82L367.16 161.93L368.35 167.44L369.54 164.48L370.73 161.48L371.92 166.81L373.11 173.80L374.30 182.13L375.49 184.91L376.68 183.46L377.87 180.95L379.06 181.49L380.26 183.75L381.45 181.77L382.64 179.67L383.83 175.19L385.02 165.89L386.21 169.34L387.40 173.67L388.59 177.54L389.78 179.58L390.97 185.33L392.16 184.46M393.35 198.77L394.54 202.28L395.73 204.98L396.92 207.26L398.11 205.42L399.30 202.38L400.49 200.45L401.68 202.74L402.87 202.36L404.07 200.56L405.26 197.74L406.45 193.45L407.64 191.74L408.83 187.00L410.02 182.37L411.21 181.06L412.40 186.57L413.59 184.29L414.78 180.20L415.97 177.69L417.16 177.39L418.35 176.42L419.54 173.74L420.73 169.18L421.92 167.51L423.11 168.41L424.30 168.46L425.49 170.55L426.68 167.05L427.88 163.10L429.07 160.27L430.26 158.64L431.45 158.43L432.64 158.45L433.83 162.76L435.02 166.75L436.21 170.96L437.40 166.12L438.59 164.55L439.78 163.05L440.97 163.30L442.16 157.70L443.35 151.86L444.54 148.50L445.73 147.64L446.92 148.45L448.11 152.96L449.30 156.89L450.49 160.47L451.69 159.93L452.88 162.97L454.07 158.88L455.26 154.40L456.45 150.14L457.64 152.79L458.83 154.41L460.02 153.77L461.21 158.29L462.40 160.42L463.59 157.56L464.78 156.07L465.97 154.84L467.16 152.18L468.35 152.85L469.54 155.24L470.73 158.31L471.92 156.79L473.11 154.57L474.31 151.57L475.50 154.33L476.69 157.97L477.88 150.60L479.07 148.76L480.26 151.40L481.45 150.55L482.64 147.62L483.83 145.50M485.02 123.80L486.21 124.85L487.40 127.71L488.59 130.42L489.78 129.80L490.97 127.62L492.16 124.61L493.35 119.50L494.54 116.92L495.73 112.27L496.92 119.32L498.12 123.27L499.31 122.03L500.50 122.99L501.69 126.32L502.88 125.83L504.07 123.60L505.26 119.82L506.45 120.14L507.64 118.32L508.83 125.50L510.02 136.04L511.21 145.16L512.40 138.90L513.59 135.35L514.78 131.88L515.97 132.09L517.16 130.46L518.35 127.69L519.54 128.48L520.73 123.12L521.93 120.84L523.12 125.10L524.31 131.63L525.50 131.15L526.69 128.46L527.88 131.36L529.07 136.19L530.26 141.85L531.45 145.68L532.64 145.10L533.83 141.17L535.02 135.89L536.21 136.59L537.40 138.49L538.59 145.14L539.78 149.35L540.97 154.16L542.16 160.11L543.35 164.59L544.54 164.47L545.74 159.62L546.93 161.15L548.12 162.41L549.31 159.68L550.50 154.26L551.69 151.38L552.88 149.93L554.07 148.10L555.26 148.91L556.45 149.14L557.64 149.01L558.83 144.37L560.02 140.41L561.21 140.92L562.40 141.60L563.59 138.05L564.78 137.66L565.97 135.42L567.16 136.13L568.35 135.49L569.55 134.26L570.74 128.41L571.93 126.88L573.12 122.96L574.31 120.87L575.50 117.55L576.69 118.70L577.88 122.27L579.07 120.37L580.26 110.16L581.45 105.90L582.64 101.03L583.83 107.08L585.02 110.80L586.21 107.72L587.40 106.16L588.59 106.21L589.78 105.20L590.97 104.80L592.16 102.20L593.36 97.80L594.55 92.08L595.74 86.93L596.93 80.59L598.12 73.54L599.31 69.13L600.50 71.53L601.69 58.88L602.88 46.74L604.07 42.16L605.26 53.98L606.45 62.83L607.64 60.96L608.83 45.97L610.02 50.90L611.21 58.32L612.40 64.04L613.59 72.72L614.78 81.01L615.97 78.86L617.17 81.51L618.36 86.75L619.55 83.34L620.74 75.58L621.93 67.89L623.12 71.62L624.31 75.59L625.50 79.48L626.69 81.81L627.88 83.11L629.07 84.57L630.26 84.42L631.45 83.50L632.64 80.01L633.83 82.13L635.02 78.13L636.21 72.88L637.40 69.78L638.59 64.17L639.78 60.34L640.98 54.67L642.17 56.19L643.36 60.83L644.55 58.40L645.74 57.23L646.93 46.02L648.12 61.24L649.31 43.88L650.50 34.94L651.69 36.81L652.88 43.46L654.07 48.96L655.26 52.06L656.45 56.30L657.64 53.74L658.83 52.38L660.02 50.86L661.21 54.09L662.40 57.60L663.59 57.71L664.79 59.95L665.98 54.85L667.17 50.75L668.36 49.17L669.55 46.59L670.74 44.41L671.93 44.55L673.12 45.38L674.31 49.48L675.50 47.73L676.69 46.22L677.88 45.54L679.07 43.78L680.26 44.99L681.45 55.56L682.64 58.53L683.83 62.10L685.02 67.88L686.21 71.47L687.41 76.47L688.60 82.05L689.79 86.87L690.98 100.21L692.17 109.72L693.36 119.26L694.55 123.32L695.74 119.86L696.93 119.01L698.12 119.78L699.31 119.25L700.50 130.42L701.69 140.20L702.88 148.35L704.07 156.67L705.26 164.89L706.45 159.50L707.64 160.21L708.83 166.30L710.02 173.29L711.22 179.13L712.41 179.67L713.60 175.71L714.79 169.96L715.98 166.14L717.17 168.74L718.36 172.98L719.55 173.46L720.74 172.53L721.93 170.42L723.12 165.41L724.31 156.63L725.50 153.30L726.69 158.46L727.88 162.78L729.07 169.70L730.26 171.62L731.45 167.95L732.64 163.19L733.83 159.28L735.03 157.69L736.22 154.80L737.41 150.52L738.60 148.17L739.79 151.92L740.98 153.32L742.17 156.72L743.36 157.42L744.55 152.43L745.74 149.05L746.93 147.47L748.12 147.69L749.31 146.92L750.50 148.82L751.69 149.96L752.88 151.68L754.07 155.69L755.26 162.47L756.45 164.45L757.64 168.90L758.84 171.55L760.03 172.39L761.22 174.71L762.41 170.61L763.60 169.31L764.79 168.10L765.98 169.64L767.17 171.12L768.36 175.48L769.55 172.94L770.74 171.66L771.93 175.57L773.12 178.63L774.31 178.93M775.50 192.36L776.69 197.33L777.88 192.57L779.07 192.20M780.26 179.55L781.45 177.08L782.65 177.20L783.84 176.90L785.03 178.70L786.22 171.35L787.41 167.33L788.60 165.45L789.79 161.21L790.98 162.32L792.17 162.03L793.36 161.65L794.55 159.34L795.74 162.48L796.93 167.88L798.12 165.30L799.31 158.41L800.50 151.71L801.69 150.27L802.88 150.09L804.07 152.59L805.26 154.15L806.46 156.20L807.65 158.15L808.84 151.64L810.03 155.15L811.22 162.18L812.41 163.33L813.60 166.94L814.79 171.32L815.98 172.13L817.17 169.57L818.36 165.29L819.55 164.26L820.74 157.14L821.93 154.81L823.12 151.55L824.31 151.18L825.50 148.67L826.69 153.09L827.88 156.32L829.07 160.18L830.27 162.20L831.46 163.23L832.65 164.83L833.84 171.46L835.03 176.55L836.22 174.31L837.41 172.65L838.60 172.68L839.79 171.60L840.98 174.03L842.17 173.85L843.36 176.17L844.55 178.13L845.74 173.98L846.93 167.72L848.12 166.30L849.31 164.96L850.50 162.94L851.69 159.20L852.88 161.28L854.08 163.51L855.27 165.65L856.46 165.98L857.65 168.07L858.84 171.06L860.03 174.98L861.22 174.36L862.41 176.51L863.60 176.16L864.79 175.24L865.98 171.84L867.17 173.20L868.36 171.87L869.55 168.62L870.74 170.08L871.93 174.01L873.12 174.28L874.31 174.89L875.50 172.66L876.69 169.73L877.89 168.98L879.08 169.28L880.27 172.06L881.46 171.38L882.65 171.51L883.84 172.16L885.03 169.82L886.22 165.40L887.41 162.87L888.60 159.57" stroke="#8a8a8a" stroke-width="0.6" fill="none" stroke-linejoin="round"/>
<line x1="213" y1="224.0" x2="889" y2="179.85" stroke="#0a0a0a" stroke-width="1.9" stroke-linecap="butt"/>
<line x1="889" y1="179.85" x2="893" y2="179.6" stroke="#777" stroke-width="1.3" stroke-linecap="butt"/>
<line x1="35.5" y1="429.5" x2="898" y2="429.5" stroke="#a4a4a4" stroke-width="1"/>
<path d="M36.20 429.3V425.99M37.39 429.3V425.65M38.58 429.3V424.92M39.77 429.3V424.54M40.96 429.3V424.98M42.15 429.3V425.56M43.34 429.3V425.60M44.53 429.3V425.32M45.72 429.3V424.85M46.91 429.3V425.07M48.11 429.3V425.77M49.30 429.3V426.45M50.49 429.3V427.05M51.68 429.3V427.55M52.87 429.3V427.98M54.06 429.3V428.34M55.25 429.3V428.73M57.63 429.3V430.35M58.82 429.3V431.11M60.01 429.3V431.73M61.20 429.3V432.20M62.39 429.3V432.50M63.58 429.3V432.05M64.77 429.3V431.08M65.96 429.3V430.47M67.15 429.3V430.26M68.34 429.3V429.76M69.53 429.3V428.87M70.72 429.3V428.09M71.92 429.3V427.61M73.11 429.3V427.06M74.30 429.3V426.19M75.49 429.3V425.30M76.68 429.3V424.60M77.87 429.3V424.08M79.06 429.3V423.89M80.25 429.3V424.06M81.44 429.3V424.24M82.63 429.3V424.27M83.82 429.3V424.21M85.01 429.3V424.12M86.20 429.3V424.07M87.39 429.3V424.07M88.58 429.3V424.12M89.77 429.3V424.23M90.96 429.3V424.38M92.15 429.3V424.55M93.34 429.3V424.75M94.53 429.3V425.02M95.73 429.3V425.33M96.92 429.3V425.74M98.11 429.3V426.54M99.30 429.3V427.50M100.49 429.3V427.99M101.68 429.3V428.15M102.87 429.3V428.10M104.06 429.3V427.93M105.25 429.3V427.72M106.44 429.3V427.48M107.63 429.3V427.86M108.82 429.3V428.78M110.01 429.3V430.00M111.20 429.3V430.67M112.39 429.3V430.98M113.58 429.3V431.03M114.77 429.3V430.93M115.96 429.3V430.73M117.15 429.3V430.58M118.34 429.3V430.61M119.54 429.3V430.75M120.73 429.3V430.95M121.92 429.3V430.44M124.30 429.3V428.40M125.49 429.3V427.36M126.68 429.3V426.27M127.87 429.3V425.15M129.06 429.3V424.40M130.25 429.3V424.09M131.44 429.3V423.93M132.63 429.3V423.77M133.82 429.3V424.09M135.01 429.3V425.29M136.20 429.3V426.73M137.39 429.3V427.74M138.58 429.3V428.29M139.77 429.3V428.08M140.96 429.3V427.51M142.15 429.3V427.29M143.35 429.3V427.30M144.54 429.3V427.69M145.73 429.3V428.89M146.92 429.3V430.37M148.11 429.3V431.29M149.30 429.3V431.79M150.49 429.3V432.03M151.68 429.3V432.10M152.87 429.3V432.05M154.06 429.3V431.93M155.25 429.3V432.19M156.44 429.3V432.74M157.63 429.3V433.30M158.82 429.3V433.79M160.01 429.3V434.19M161.20 429.3V433.71M162.39 429.3V432.69M163.58 429.3V431.46M164.77 429.3V430.38M167.16 429.3V428.66M168.35 429.3V428.30M169.54 429.3V428.36M170.73 429.3V428.68M176.68 429.3V428.38M177.87 429.3V427.52M179.06 429.3V426.48M180.25 429.3V425.39M181.44 429.3V424.34M182.63 429.3V424.52M183.82 429.3V425.78M185.01 429.3V427.86M186.20 429.3V430.45M187.39 429.3V432.77M188.58 429.3V434.47M189.77 429.3V435.68M190.97 429.3V435.56M192.16 429.3V434.39M193.35 429.3V432.81M194.54 429.3V431.14M195.73 429.3V430.20M196.92 429.3V430.20M198.11 429.3V430.86M199.30 429.3V431.94M200.49 429.3V432.75M201.68 429.3V432.70M202.87 429.3V432.09M204.06 429.3V431.07M205.25 429.3V429.80M206.44 429.3V428.62M207.63 429.3V427.74M208.82 429.3V427.10M210.01 429.3V427.11M211.20 429.3V427.75M212.39 429.3V427.97M213.58 429.3V427.37M214.78 429.3V426.60M215.97 429.3V426.10M217.16 429.3V425.81M218.35 429.3V425.62M219.54 429.3V425.49M220.73 429.3V425.46M221.92 429.3V425.52M223.11 429.3V425.64M224.30 429.3V425.79M225.49 429.3V425.83M226.68 429.3V425.81M227.87 429.3V426.07M229.06 429.3V427.22M230.25 429.3V428.86M231.44 429.3V430.22M232.63 429.3V430.90M233.82 429.3V431.12M235.01 429.3V431.57M236.20 429.3V432.38M237.39 429.3V433.37M238.59 429.3V433.69M239.78 429.3V433.49M240.97 429.3V433.31M242.16 429.3V433.24M243.35 429.3V433.20M244.54 429.3V432.56M245.73 429.3V431.57M246.92 429.3V430.46M249.30 429.3V428.81M250.49 429.3V428.22M251.68 429.3V427.76M252.87 429.3V427.40M254.06 429.3V427.52M255.25 429.3V428.15M256.44 429.3V428.24M257.63 429.3V427.28M258.82 429.3V426.39M260.01 429.3V426.43M261.21 429.3V427.07M262.40 429.3V427.59M263.59 429.3V427.68M264.78 429.3V427.50M265.97 429.3V427.14M267.16 429.3V426.70M268.35 429.3V426.23M269.54 429.3V426.09M270.73 429.3V426.97M271.92 429.3V428.45M273.11 429.3V430.29M274.30 429.3V432.32M275.49 429.3V434.31M276.68 429.3V436.09M277.87 429.3V437.52M279.06 429.3V438.37M280.25 429.3V438.82M281.44 429.3V439.03M282.63 429.3V438.94M283.82 429.3V437.63M285.02 429.3V435.61M286.21 429.3V433.59M287.40 429.3V431.68M288.59 429.3V430.73M289.78 429.3V430.50M290.97 429.3V430.81M292.16 429.3V431.46M293.35 429.3V431.45M294.54 429.3V430.70M296.92 429.3V427.76M298.11 429.3V425.06M299.30 429.3V423.39M300.49 429.3V421.96M301.68 429.3V420.78M302.87 429.3V419.88M304.06 429.3V419.32M305.25 429.3V419.04M306.44 429.3V419.55M307.63 429.3V421.04M308.83 429.3V423.09M310.02 429.3V425.37M311.21 429.3V426.05M312.40 429.3V425.70M313.59 429.3V425.12M314.78 429.3V425.72M315.97 429.3V426.75M317.16 429.3V426.36M318.35 429.3V425.17M319.54 429.3V425.22M320.73 429.3V426.06M321.92 429.3V427.78M323.11 429.3V430.00M324.30 429.3V432.19M325.49 429.3V431.88M326.68 429.3V430.02M327.87 429.3V429.69M329.06 429.3V430.18M330.25 429.3V434.58M331.44 429.3V437.38M332.64 429.3V439.54M333.83 429.3V441.16M335.02 429.3V441.09M336.21 429.3V439.38M337.40 429.3V437.28M338.59 429.3V435.08M339.78 429.3V434.32M340.97 429.3V434.60M342.16 429.3V435.37M343.35 429.3V436.33M344.54 429.3V435.87M345.73 429.3V434.53M346.92 429.3V432.87M348.11 429.3V431.09M350.49 429.3V426.81M351.68 429.3V424.84M352.87 429.3V423.22M354.06 429.3V422.44M355.25 429.3V423.43M356.45 429.3V424.57M357.64 429.3V424.96M358.83 429.3V424.61M360.02 429.3V423.52M361.21 429.3V422.31M362.40 429.3V421.70M363.59 429.3V421.30M364.78 429.3V420.51M365.97 429.3V419.77M367.16 429.3V420.62M368.35 429.3V422.40M369.54 429.3V423.65M370.73 429.3V424.52M371.92 429.3V426.73M373.11 429.3V429.80M374.30 429.3V433.70M375.49 429.3V436.97M376.68 429.3V438.31M377.87 429.3V438.56M379.06 429.3V438.55M380.26 429.3V438.22M381.45 429.3V437.24M382.64 429.3V435.89M383.83 429.3V433.37M385.02 429.3V429.86M386.21 429.3V428.40M387.40 429.3V428.31M389.78 429.3V430.57M390.97 429.3V432.49M392.16 429.3V433.85M393.35 429.3V437.76M394.54 429.3V440.74M395.73 429.3V442.95M396.92 429.3V443.72M398.11 429.3V442.78M399.30 429.3V440.87M400.49 429.3V438.44M401.68 429.3V436.51M402.87 429.3V435.24M404.07 429.3V433.55M405.26 429.3V431.21M406.45 429.3V428.52M407.64 429.3V425.70M408.83 429.3V423.00M410.02 429.3V420.60M411.21 429.3V419.02M412.40 429.3V419.01M413.59 429.3V419.63M414.78 429.3V419.48M415.97 429.3V418.99M417.16 429.3V419.04M418.35 429.3V419.44M419.54 429.3V419.80M420.73 429.3V419.50M421.92 429.3V419.09M423.11 429.3V419.79M424.30 429.3V421.18M425.49 429.3V422.47M426.68 429.3V423.01M427.88 429.3V423.08M429.07 429.3V422.91M430.26 429.3V422.81M431.45 429.3V423.42M432.64 429.3V424.46M433.83 429.3V426.25M436.21 429.3V431.73M437.40 429.3V432.68M438.59 429.3V432.63M439.78 429.3V432.27M440.97 429.3V431.71M442.16 429.3V430.68M443.35 429.3V428.80M444.54 429.3V426.84M445.73 429.3V425.82M446.92 429.3V425.64M448.11 429.3V426.80M449.30 429.3V428.73M450.49 429.3V430.86M451.69 429.3V432.70M452.88 429.3V433.88M454.07 429.3V433.72M455.26 429.3V432.95M456.45 429.3V431.87M457.64 429.3V431.38M458.83 429.3V431.48M460.02 429.3V431.94M461.21 429.3V432.82M462.40 429.3V433.90M463.59 429.3V433.90M464.78 429.3V433.10M465.97 429.3V432.13M467.16 429.3V431.16M468.35 429.3V430.56M469.54 429.3V430.98M470.73 429.3V432.02M471.92 429.3V432.06M473.11 429.3V431.38M474.31 429.3V430.43M475.50 429.3V430.88M476.69 429.3V431.42M477.88 429.3V430.39M479.07 429.3V428.94M480.26 429.3V428.38M481.45 429.3V428.33M482.64 429.3V427.96M483.83 429.3V427.41M485.02 429.3V421.41M486.21 429.3V418.66M487.40 429.3V418.18M488.59 429.3V419.18M489.78 429.3V420.56M490.97 429.3V421.60M492.16 429.3V422.26M493.35 429.3V422.49M494.54 429.3V422.25M495.73 429.3V421.28M496.92 429.3V423.09M498.12 429.3V425.67M499.31 429.3V427.58M501.69 429.3V431.39M502.88 429.3V433.10M504.07 429.3V433.59M505.26 429.3V433.31M506.45 429.3V432.70M507.64 429.3V432.16M508.83 429.3V433.55M510.02 429.3V436.77M511.21 429.3V440.93M512.40 429.3V441.85M513.59 429.3V440.89M514.78 429.3V439.46M515.97 429.3V437.79M517.16 429.3V436.06M518.35 429.3V434.42M519.54 429.3V432.74M520.73 429.3V430.71M521.93 429.3V428.56M523.12 429.3V428.59M524.31 429.3V429.98M525.50 429.3V430.70M526.69 429.3V430.94M527.88 429.3V431.91M529.07 429.3V433.30M530.26 429.3V435.16M531.45 429.3V437.23M532.64 429.3V438.04M533.83 429.3V436.88M535.02 429.3V435.15M536.21 429.3V433.43M537.40 429.3V432.70M538.59 429.3V433.24M539.78 429.3V434.56M540.97 429.3V436.27M542.16 429.3V438.16M543.35 429.3V440.09M544.54 429.3V440.24M545.74 429.3V438.57M546.93 429.3V437.15M548.12 429.3V436.02M549.31 429.3V433.72M550.50 429.3V430.72M551.69 429.3V427.70M552.88 429.3V425.31M554.07 429.3V423.64M555.26 429.3V422.57M556.45 429.3V422.17M557.64 429.3V422.08M558.83 429.3V421.28M560.02 429.3V420.10M561.21 429.3V419.57M562.40 429.3V419.52M563.59 429.3V419.71M564.78 429.3V419.89M565.97 429.3V420.11M567.16 429.3V420.64M568.35 429.3V421.35M569.55 429.3V421.80M570.74 429.3V421.94M571.93 429.3V421.62M573.12 429.3V421.04M574.31 429.3V420.49M575.50 429.3V420.06M576.69 429.3V420.67M577.88 429.3V422.24M579.07 429.3V423.03M580.26 429.3V422.60M581.45 429.3V421.30M582.64 429.3V419.80M583.83 429.3V421.14M585.02 429.3V423.64M586.21 429.3V425.25M587.40 429.3V426.29M588.59 429.3V427.03M589.78 429.3V427.59M590.97 429.3V428.44M592.16 429.3V428.89M593.36 429.3V428.22M594.55 429.3V426.85M595.74 429.3V425.01M596.93 429.3V422.95M598.12 429.3V420.78M599.31 429.3V418.97M600.50 429.3V419.63M601.69 429.3V417.45M602.88 429.3V414.10M604.07 429.3V412.66M605.26 429.3V415.65M606.45 429.3V421.22M607.64 429.3V424.77M608.83 429.3V424.20M610.02 429.3V426.12M612.40 429.3V434.03M613.59 429.3V439.28M614.78 429.3V444.58M615.97 429.3V447.00M617.17 429.3V448.73M618.36 429.3V450.38M619.55 429.3V450.03M620.74 429.3V446.87M621.93 429.3V442.33M623.12 429.3V440.30M624.31 429.3V439.84M625.50 429.3V439.69M626.69 429.3V439.70M627.88 429.3V439.93M629.07 429.3V440.25M630.26 429.3V439.61M631.45 429.3V438.26M632.64 429.3V436.91M633.83 429.3V435.71M635.02 429.3V433.86M636.21 429.3V431.33M637.40 429.3V428.62M638.59 429.3V426.00M639.78 429.3V423.29M640.98 429.3V420.35M642.17 429.3V419.66M643.36 429.3V421.17M644.55 429.3V422.26M645.74 429.3V423.03M646.93 429.3V421.39M648.12 429.3V423.86M649.31 429.3V422.06M650.50 429.3V419.49M651.69 429.3V419.11M652.88 429.3V421.20M654.07 429.3V424.35M655.26 429.3V427.79M656.45 429.3V430.68M657.64 429.3V432.58M658.83 429.3V433.52M660.02 429.3V433.53M661.21 429.3V434.07M662.40 429.3V435.26M663.59 429.3V436.32M664.79 429.3V437.19M665.98 429.3V436.28M667.17 429.3V434.42M668.36 429.3V432.81M669.55 429.3V431.39M670.74 429.3V430.06M674.31 429.3V429.62M675.50 429.3V429.96M676.69 429.3V430.14M677.88 429.3V430.01M679.07 429.3V429.64M680.26 429.3V429.72M681.45 429.3V432.20M682.64 429.3V434.96M683.83 429.3V437.46M685.02 429.3V439.60M686.21 429.3V441.45M687.41 429.3V443.14M688.60 429.3V444.77M689.79 429.3V446.25M690.98 429.3V449.25M692.17 429.3V452.63M693.36 429.3V455.47M694.55 429.3V456.82M695.74 429.3V455.16M696.93 429.3V451.83M698.12 429.3V448.35M699.31 429.3V445.15M700.50 429.3V444.36M701.69 429.3V444.62M702.88 429.3V445.23M704.07 429.3V446.59M705.26 429.3V447.80M706.45 429.3V445.88M707.64 429.3V442.41M708.83 429.3V440.74M710.02 429.3V439.93M711.22 429.3V439.55M712.41 429.3V438.03M713.60 429.3V434.90M714.79 429.3V430.61M715.98 429.3V425.85M717.17 429.3V422.98M718.36 429.3V421.45M719.55 429.3V420.66M720.74 429.3V419.56M721.93 429.3V417.85M723.12 429.3V415.28M724.31 429.3V411.82M725.50 429.3V409.29M726.69 429.3V409.24M727.88 429.3V410.82M729.07 429.3V413.41M730.26 429.3V416.05M731.45 429.3V416.96M732.64 429.3V416.79M733.83 429.3V416.17M735.03 429.3V415.33M736.22 429.3V414.38M737.41 429.3V413.45M738.60 429.3V412.98M739.79 429.3V413.97M740.98 429.3V415.85M742.17 429.3V418.13M743.36 429.3V420.49M744.55 429.3V421.14M745.74 429.3V420.72M746.93 429.3V420.47M748.12 429.3V420.42M749.31 429.3V421.10M750.50 429.3V422.31M751.69 429.3V423.95M752.88 429.3V425.83M754.07 429.3V428.15M755.26 429.3V430.82M756.45 429.3V433.26M757.64 429.3V435.15M758.84 429.3V436.59M760.03 429.3V437.65M761.22 429.3V437.95M762.41 429.3V436.94M763.60 429.3V435.30M764.79 429.3V433.85M765.98 429.3V432.70M767.17 429.3V432.45M768.36 429.3V432.72M769.55 429.3V432.18M770.74 429.3V431.17M771.93 429.3V431.07M773.12 429.3V431.60M774.31 429.3V431.78M775.50 429.3V434.68M776.69 429.3V437.23M777.88 429.3V437.54M779.07 429.3V436.57M780.26 429.3V432.26M781.45 429.3V428.88M782.65 429.3V426.32M783.84 429.3V424.95M785.03 429.3V423.93M786.22 429.3V421.95M787.41 429.3V419.89M788.60 429.3V418.19M789.79 429.3V416.83M790.98 429.3V416.62M792.17 429.3V417.36M793.36 429.3V418.19M794.55 429.3V418.88M795.74 429.3V420.35M796.93 429.3V422.79M798.12 429.3V424.23M799.31 429.3V423.63M800.50 429.3V422.39M801.69 429.3V421.66M802.88 429.3V421.55M804.07 429.3V422.36M805.26 429.3V423.78M806.46 429.3V425.67M807.65 429.3V427.51M808.84 429.3V427.49M810.03 429.3V428.54M811.22 429.3V430.80M812.41 429.3V432.97M813.60 429.3V434.98M814.79 429.3V436.82M815.98 429.3V438.21M817.17 429.3V437.94M818.36 429.3V436.64M819.55 429.3V434.67M820.74 429.3V432.39M821.93 429.3V430.01M823.12 429.3V427.71M824.31 429.3V425.70M825.50 429.3V424.34M826.69 429.3V425.01M827.88 429.3V426.71M829.07 429.3V428.56M830.27 429.3V430.37M831.46 429.3V431.94M832.65 429.3V433.41M833.84 429.3V435.68M835.03 429.3V437.76M836.22 429.3V438.07M837.41 429.3V437.45M838.60 429.3V436.67M839.79 429.3V435.84M840.98 429.3V435.12M842.17 429.3V434.49M843.36 429.3V434.07M844.55 429.3V433.85M845.74 429.3V432.62M846.93 429.3V430.12M848.12 429.3V427.61M849.31 429.3V425.84M850.50 429.3V424.54M851.69 429.3V423.50M852.88 429.3V422.93M854.08 429.3V423.25M855.27 429.3V424.13M856.46 429.3V425.39M857.65 429.3V426.86M858.84 429.3V428.57M860.03 429.3V430.33M861.22 429.3V431.65M862.41 429.3V432.62M863.60 429.3V433.12M864.79 429.3V432.70M865.98 429.3V431.78M867.17 429.3V430.93M868.36 429.3V430.12M869.55 429.3V428.66M870.74 429.3V427.91M871.93 429.3V428.28M875.50 429.3V428.83M876.69 429.3V428.00M877.89 429.3V426.95M879.08 429.3V426.70M880.27 429.3V427.08M881.46 429.3V427.65M882.65 429.3V428.15M883.84 429.3V428.20M885.03 429.3V427.49M886.22 429.3V426.39M887.41 429.3V425.16M888.60 429.3V424.11" stroke="#8c8c8c" stroke-width="1.22" fill="none"/>
<path d="M36.20 441.95L37.39 441.49L38.58 440.95L39.77 440.35L40.96 439.81L42.15 439.34L43.34 438.88L44.53 438.38L45.72 437.83L46.91 437.30L48.11 436.86L49.30 436.50L50.49 436.22L51.68 436.00L52.87 435.83L54.06 435.71L55.25 435.64L56.44 435.66L57.63 435.80L58.82 436.02L60.01 436.32L61.20 436.69L62.39 437.09L63.58 437.43L64.77 437.65L65.96 437.80L67.15 437.92L68.34 437.98L69.53 437.93L70.72 437.77L71.92 437.56L73.11 437.28L74.30 436.90L75.49 436.40L76.68 435.81L77.87 435.16L79.06 434.48L80.25 433.82L81.44 433.19L82.63 432.56L83.82 431.93L85.01 431.28L86.20 430.63L87.39 429.97L88.58 429.33L89.77 428.69L90.96 428.08L92.15 427.48L93.34 426.91L94.53 426.38L95.73 425.88L96.92 425.44L98.11 425.09L99.30 424.87L100.49 424.70L101.68 424.56L102.87 424.41L104.06 424.24L105.25 424.04L106.44 423.81L107.63 423.63L108.82 423.57L110.01 423.66L111.20 423.83L112.39 424.04L113.58 424.25L114.77 424.46L115.96 424.64L117.15 424.80L118.34 424.96L119.54 425.14L120.73 425.35L121.92 425.49L123.11 425.51L124.30 425.40L125.49 425.16L126.68 424.78L127.87 424.26L129.06 423.65L130.25 422.99L131.44 422.32L132.63 421.63L133.82 420.98L135.01 420.48L136.20 420.16L137.39 419.96L138.58 419.84L139.77 419.68L140.96 419.46L142.15 419.21L143.35 418.96L144.54 418.76L145.73 418.71L146.92 418.84L148.11 419.09L149.30 419.40L150.49 419.74L151.68 420.09L152.87 420.44L154.06 420.76L155.25 421.13L156.44 421.56L157.63 422.05L158.82 422.62L160.01 423.23L161.20 423.78L162.39 424.20L163.58 424.47L164.77 424.61L165.96 424.63L167.16 424.55L168.35 424.42L169.54 424.30L170.73 424.23L171.92 424.20L173.11 424.24L174.30 424.27L175.49 424.24L176.68 424.13L177.87 423.90L179.06 423.55L180.25 423.06L181.44 422.44L182.63 421.85L183.82 421.40L185.01 421.23L186.20 421.37L187.39 421.80L188.58 422.45L189.77 423.25L190.97 424.03L192.16 424.67L193.35 425.10L194.54 425.33L195.73 425.45L196.92 425.56L198.11 425.75L199.30 426.08L200.49 426.52L201.68 426.94L202.87 427.29L204.06 427.51L205.25 427.57L206.44 427.49L207.63 427.29L208.82 427.02L210.01 426.74L211.20 426.55L212.39 426.38L213.58 426.14L214.78 425.80L215.97 425.40L217.16 424.97L218.35 424.51L219.54 424.03L220.73 423.55L221.92 423.08L223.11 422.62L224.30 422.18L225.49 421.75L226.68 421.31L227.87 420.91L229.06 420.65L230.25 420.59L231.44 420.71L232.63 420.91L233.82 421.13L235.01 421.42L236.20 421.80L237.39 422.31L238.59 422.86L239.78 423.38L240.97 423.88L242.16 424.38L243.35 424.87L244.54 425.27L245.73 425.56L246.92 425.70L248.11 425.73L249.30 425.67L250.49 425.54L251.68 425.34L252.87 425.11L254.06 424.88L255.25 424.74L256.44 424.61L257.63 424.35L258.82 423.99L260.01 423.63L261.21 423.35L262.40 423.14L263.59 422.94L264.78 422.71L265.97 422.44L267.16 422.12L268.35 421.73L269.54 421.33L270.73 421.04L271.92 420.93L273.11 421.06L274.30 421.44L275.49 422.06L276.68 422.91L277.87 423.94L279.06 425.07L280.25 426.26L281.44 427.48L282.63 428.68L283.82 429.72L285.02 430.51L286.21 431.05L287.40 431.35L288.59 431.52L289.78 431.67L290.97 431.86L292.16 432.13L293.35 432.40L294.54 432.58L295.73 432.58L296.92 432.39L298.11 431.86L299.30 431.12L300.49 430.21L301.68 429.14L302.87 427.96L304.06 426.72L305.25 425.43L306.44 424.22L307.63 423.18L308.83 422.41L310.02 421.91L311.21 421.51L312.40 421.06L313.59 420.54L314.78 420.09L315.97 419.77L317.16 419.40L318.35 418.89L319.54 418.37L320.73 417.97L321.92 417.78L323.11 417.87L324.30 418.23L325.49 418.55L326.68 418.64L327.87 418.69L329.06 418.80L330.25 419.46L331.44 420.47L332.64 421.75L333.83 423.23L335.02 424.71L336.21 425.97L337.40 426.96L338.59 427.69L339.78 428.31L340.97 428.98L342.16 429.73L343.35 430.61L344.54 431.44L345.73 432.09L346.92 432.53L348.11 432.76L349.30 432.72L350.49 432.41L351.68 431.85L352.87 431.09L354.06 430.24L355.25 429.50L356.45 428.91L357.64 428.37L358.83 427.78L360.02 427.06L361.21 426.19L362.40 425.24L363.59 424.24L364.78 423.14L365.97 421.95L367.16 420.86L368.35 420.00L369.54 419.29L370.73 418.69L371.92 418.37L373.11 418.43L374.30 418.99L375.49 419.94L376.68 421.07L377.87 422.23L379.06 423.38L380.26 424.50L381.45 425.49L382.64 426.32L383.83 426.82L385.02 426.90L386.21 426.78L387.40 426.66L388.59 426.64L389.78 426.79L390.97 427.19L392.16 427.76L393.35 428.82L394.54 430.25L395.73 431.96L396.92 433.76L398.11 435.44L399.30 436.89L400.49 438.03L401.68 438.93L402.87 439.68L404.07 440.21L405.26 440.45L406.45 440.35L407.64 439.90L408.83 439.11L410.02 438.02L411.21 436.74L412.40 435.45L413.59 434.24L414.78 433.01L415.97 431.73L417.16 430.44L418.35 429.21L419.54 428.02L420.73 426.80L421.92 425.52L423.11 424.33L424.30 423.32L425.49 422.47L426.68 421.68L427.88 420.90L429.07 420.10L430.26 419.29L431.45 418.56L432.64 417.95L433.83 417.57L435.02 417.54L436.21 417.85L437.40 418.27L438.59 418.69L439.78 419.06L440.97 419.36L442.16 419.53L443.35 419.47L444.54 419.16L445.73 418.73L446.92 418.27L448.11 417.96L449.30 417.89L450.49 418.08L451.69 418.51L452.88 419.08L454.07 419.63L455.26 420.09L456.45 420.41L457.64 420.67L458.83 420.94L460.02 421.27L461.21 421.71L462.40 422.28L463.59 422.86L464.78 423.33L465.97 423.69L467.16 423.92L468.35 424.08L469.54 424.29L470.73 424.63L471.92 424.97L473.11 425.23L474.31 425.38L475.50 425.57L476.69 425.84L477.88 425.97L479.07 425.93L480.26 425.81L481.45 425.69L482.64 425.53L483.83 425.29L485.02 424.30L486.21 422.97L487.40 421.58L488.59 420.32L489.78 419.23L490.97 418.26L492.16 417.38L493.35 416.53L494.54 415.65L495.73 414.65L496.92 413.87L498.12 413.42L499.31 413.20L500.50 413.21L501.69 413.47L502.88 413.94L504.07 414.48L505.26 414.98L506.45 415.40L507.64 415.76L508.83 416.29L510.02 417.23L511.21 418.68L512.40 420.25L513.59 421.70L514.78 422.97L515.97 424.03L517.16 424.87L518.35 425.51L519.54 425.94L520.73 426.12L521.93 426.03L523.12 425.94L524.31 426.03L525.50 426.20L526.69 426.40L527.88 426.73L529.07 427.23L530.26 427.96L531.45 428.96L532.64 430.05L533.83 431.00L535.02 431.73L536.21 432.24L537.40 432.67L538.59 433.16L539.78 433.82L540.97 434.69L542.16 435.80L543.35 437.14L544.54 438.51L545.74 439.67L546.93 440.65L548.12 441.49L549.31 442.04L550.50 442.22L551.69 442.02L552.88 441.52L554.07 440.81L555.26 439.97L556.45 439.08L557.64 438.18L558.83 437.18L560.02 436.03L561.21 434.81L562.40 433.59L563.59 432.39L564.78 431.21L565.97 430.07L567.16 428.98L568.35 427.99L569.55 427.05L570.74 426.13L571.93 425.17L573.12 424.14L574.31 423.04L575.50 421.89L576.69 420.81L577.88 419.92L579.07 419.14L580.26 418.30L581.45 417.30L582.64 416.11L583.83 415.09L585.02 414.39L586.21 413.88L587.40 413.51L588.59 413.22L589.78 413.01L590.97 412.90L592.16 412.85L593.36 412.71L594.55 412.41L595.74 411.87L596.93 411.08L598.12 410.01L599.31 408.72L600.50 407.51L601.69 406.03L602.88 404.13L604.07 402.05L605.26 400.35L606.45 399.33L607.64 398.77L608.83 398.13L610.02 397.73L611.21 397.77L612.40 398.36L613.59 399.61L614.78 401.52L615.97 403.73L617.17 406.16L618.36 408.80L619.55 411.39L620.74 413.58L621.93 415.21L623.12 416.59L624.31 417.91L625.50 419.20L626.69 420.50L627.88 421.83L629.07 423.20L630.26 424.49L631.45 425.61L632.64 426.56L633.83 427.36L635.02 427.93L636.21 428.18L637.40 428.10L638.59 427.69L639.78 426.94L640.98 425.82L642.17 424.61L643.36 423.60L644.55 422.72L645.74 421.93L646.93 420.94L648.12 420.26L649.31 419.36L650.50 418.13L651.69 416.86L652.88 415.85L654.07 415.23L655.26 415.04L656.45 415.21L657.64 415.62L658.83 416.15L660.02 416.68L661.21 417.27L662.40 418.02L663.59 418.90L664.79 419.88L665.98 420.76L667.17 421.40L668.36 421.84L669.55 422.10L670.74 422.19L671.93 422.16L673.12 422.12L674.31 422.16L675.50 422.25L676.69 422.35L677.88 422.44L679.07 422.48L680.26 422.54L681.45 422.90L682.64 423.60L683.83 424.62L685.02 425.91L686.21 427.43L687.41 429.16L688.60 431.09L689.79 433.21L690.98 435.71L692.17 438.62L693.36 441.89L694.55 445.33L695.74 448.57L696.93 451.38L698.12 453.77L699.31 455.75L700.50 457.63L701.69 459.54L702.88 461.53L704.07 463.70L705.26 466.01L706.45 468.08L707.64 469.72L708.83 471.15L710.02 472.48L711.22 473.76L712.41 474.85L713.60 475.55L714.79 475.71L715.98 475.28L717.17 474.49L718.36 473.51L719.55 472.43L720.74 471.22L721.93 469.78L723.12 468.03L724.31 465.85L725.50 463.35L726.69 460.84L727.88 458.53L729.07 456.54L730.26 454.89L731.45 453.34L732.64 451.78L733.83 450.14L735.03 448.39L736.22 446.53L737.41 444.55L738.60 442.51L739.79 440.59L740.98 438.91L742.17 437.51L743.36 436.41L744.55 435.39L745.74 434.32L746.93 433.22L748.12 432.11L749.31 431.08L750.50 430.21L751.69 429.54L752.88 429.11L754.07 428.96L755.26 429.15L756.45 429.65L757.64 430.38L758.84 431.29L760.03 432.33L761.22 433.41L762.41 434.37L763.60 435.12L764.79 435.69L765.98 436.11L767.17 436.51L768.36 436.93L769.55 437.29L770.74 437.53L771.93 437.75L773.12 438.04L774.31 438.35L775.50 439.02L776.69 440.01L777.88 441.04L779.07 441.95L780.26 442.32L781.45 442.27L782.65 441.89L783.84 441.35L785.03 440.68L786.22 439.76L787.41 438.58L788.60 437.20L789.79 435.64L790.98 434.05L792.17 432.56L793.36 431.17L794.55 429.87L795.74 428.75L796.93 427.94L798.12 427.30L799.31 426.59L800.50 425.73L801.69 424.77L802.88 423.81L804.07 422.94L805.26 422.25L806.46 421.79L807.65 421.57L808.84 421.34L810.03 421.25L811.22 421.44L812.41 421.89L813.60 422.60L814.79 423.54L815.98 424.66L817.17 425.74L818.36 426.66L819.55 427.33L820.74 427.71L821.93 427.80L823.12 427.60L824.31 427.15L825.50 426.53L826.69 426.00L827.88 425.67L829.07 425.58L830.27 425.71L831.46 426.04L832.65 426.56L833.84 427.36L835.03 428.41L836.22 429.51L837.41 430.53L838.60 431.45L839.79 432.27L840.98 432.99L842.17 433.64L843.36 434.24L844.55 434.81L845.74 435.22L846.93 435.32L848.12 435.11L849.31 434.68L850.50 434.09L851.69 433.36L852.88 432.57L854.08 431.81L855.27 431.16L856.46 430.67L857.65 430.37L858.84 430.28L860.03 430.40L861.22 430.70L862.41 431.11L863.60 431.59L864.79 432.02L865.98 432.33L867.17 432.53L868.36 432.63L869.55 432.55L870.74 432.38L871.93 432.25L873.12 432.24L874.31 432.23L875.50 432.18L876.69 432.01L877.89 431.72L879.08 431.39L880.27 431.12L881.46 430.91L882.65 430.77L883.84 430.63L885.03 430.41L886.22 430.04L887.41 429.52L888.60 428.87" stroke="#777" stroke-width="0.7" fill="none"/>
<path d="M36.20 440.30L37.39 439.67L38.58 438.76L39.77 437.97L40.96 437.65L42.15 437.47L43.34 437.03L44.53 436.39L45.72 435.60L46.91 435.18L48.11 435.09L49.30 435.08L50.49 435.09L51.68 435.13L52.87 435.17L54.06 435.23L55.25 435.36L56.44 435.74L57.63 436.32L58.82 436.92L60.01 437.54L61.20 438.14L62.39 438.69L63.58 438.81L64.77 438.55L65.96 438.39L67.15 438.40L68.34 438.21L69.53 437.71L70.72 437.17L71.92 436.72L73.11 436.16L74.30 435.34L75.49 434.40L76.68 433.46L77.87 432.54L79.06 431.77L80.25 431.20L81.44 430.66L82.63 430.05L83.82 429.39L85.01 428.69L86.20 428.01L87.39 427.36L88.58 426.74L89.77 426.16L90.96 425.61L92.15 425.11L93.34 424.64L94.53 424.24L95.73 423.90L96.92 423.66L98.11 423.71L99.30 423.97L100.49 424.05L101.68 423.98L102.87 423.81L104.06 423.56L105.25 423.25L106.44 422.90L107.63 422.91L108.82 423.31L110.01 424.00L111.20 424.51L112.39 424.88L113.58 425.12L114.77 425.27L115.96 425.35L117.15 425.43L118.34 425.61L119.54 425.87L120.73 426.17L121.92 426.06L123.11 425.59L124.30 424.95L125.49 424.19L126.68 423.26L127.87 422.19L129.06 421.19L130.25 420.39L131.44 419.64L132.63 418.87L133.82 418.38L135.01 418.48L136.20 418.87L137.39 419.18L138.58 419.33L139.77 419.08L140.96 418.57L142.15 418.20L143.35 417.96L144.54 417.96L145.73 418.50L146.92 419.38L148.11 420.08L149.30 420.65L150.49 421.11L151.68 421.49L152.87 421.81L154.06 422.08L155.25 422.57L156.44 423.28L157.63 424.05L158.82 424.86L160.01 425.67L161.20 425.98L162.39 425.90L163.58 425.55L164.77 425.15L165.96 424.70L167.16 424.23L168.35 423.92L169.54 423.83L170.73 423.92L171.92 424.11L173.11 424.38L174.30 424.39L175.49 424.13L176.68 423.67L177.87 423.01L179.06 422.14L180.25 421.11L181.44 419.96L182.63 419.45L183.82 419.64L185.01 420.51L186.20 421.95L187.39 423.54L188.58 425.03L189.77 426.43L190.97 427.16L192.16 427.21L193.35 426.86L194.54 426.25L195.73 425.89L196.92 426.01L198.11 426.53L199.30 427.40L200.49 428.24L201.68 428.64L202.87 428.68L204.06 428.40L205.25 427.82L206.44 427.15L207.63 426.51L208.82 425.92L210.01 425.65L211.20 425.77L212.39 425.72L213.58 425.18L214.78 424.45L215.97 423.80L217.16 423.22L218.35 422.67L219.54 422.13L220.73 421.63L221.92 421.19L223.11 420.79L224.30 420.43L225.49 420.01L226.68 419.56L227.87 419.29L229.06 419.61L230.25 420.37L231.44 421.17L232.63 421.71L233.82 422.04L235.01 422.55L236.20 423.34L237.39 424.35L238.59 425.05L239.78 425.48L240.97 425.89L242.16 426.35L243.35 426.82L244.54 426.91L245.73 426.69L246.92 426.28L248.11 425.86L249.30 425.43L250.49 425.00L251.68 424.57L252.87 424.16L254.06 423.99L255.25 424.16L256.44 424.07L257.63 423.34L258.82 422.53L260.01 422.20L261.21 422.24L262.40 422.28L263.59 422.13L264.78 421.81L265.97 421.36L267.16 420.82L268.35 420.20L269.54 419.72L270.73 419.87L271.92 420.51L273.11 421.55L274.30 422.95L275.49 424.56L276.68 426.31L277.87 428.05L279.06 429.61L280.25 431.02L281.44 432.34L282.63 433.50L283.82 433.89L285.02 433.66L286.21 433.19L287.40 432.54L288.59 432.24L289.78 432.27L290.97 432.62L292.16 433.21L293.35 433.48L294.54 433.28L295.73 432.61L296.92 431.62L298.11 429.74L299.30 428.17L300.49 426.54L301.68 424.88L302.87 423.25L304.06 421.73L305.25 420.30L306.44 419.34L307.63 419.05L308.83 419.30L310.02 419.95L311.21 419.88L312.40 419.26L313.59 418.45L314.78 418.30L315.97 418.50L317.16 417.93L318.35 416.82L319.54 416.33L320.73 416.35L321.92 417.02L323.11 418.22L324.30 419.67L325.49 419.84L326.68 419.00L327.87 418.89L329.06 419.24L330.25 422.10L331.44 424.51L332.64 426.87L333.83 429.16L335.02 430.60L336.21 431.00L337.40 430.95L338.59 430.58L339.78 430.82L340.97 431.63L342.16 432.77L343.35 434.13L344.54 434.72L345.73 434.70L346.92 434.32L348.11 433.66L349.30 432.58L350.49 431.17L351.68 429.62L352.87 428.05L354.06 426.80L355.25 426.57L356.45 426.54L357.64 426.20L358.83 425.44L360.02 424.17L361.21 422.69L362.40 421.43L363.59 420.24L364.78 418.74L365.97 417.18L367.16 416.52L368.35 416.55L369.54 416.47L370.73 416.31L371.92 417.09L373.11 418.69L374.30 421.19L375.49 423.78L376.68 425.57L377.87 426.86L379.06 428.01L380.26 428.96L381.45 429.46L382.64 429.61L383.83 428.86L385.02 427.18L386.21 426.33L387.40 426.16L388.59 426.54L389.78 427.43L390.97 428.79L392.16 430.04L393.35 433.05L394.54 435.97L395.73 438.78L396.92 440.97L398.11 442.18L399.30 442.67L400.49 442.60L401.68 442.54L402.87 442.64L404.07 442.33L405.26 441.40L406.45 439.96L407.64 438.10L408.83 435.96L410.02 433.67L411.21 431.60L412.40 430.30L413.59 429.41L414.78 428.11L415.97 426.57L417.16 425.31L418.35 424.28L419.54 423.28L420.73 421.90L421.92 420.42L423.11 419.58L424.30 419.26L425.49 419.05L426.68 418.53L427.88 417.79L429.07 416.91L430.26 416.05L431.45 415.62L432.64 415.53L433.83 416.04L435.02 417.44L436.21 419.06L437.40 419.96L438.59 420.35L439.78 420.54L440.97 420.56L442.16 420.22L443.35 419.22L444.54 417.93L445.73 416.99L446.92 416.44L448.11 416.70L449.30 417.60L450.49 418.86L451.69 420.21L452.88 421.37L454.07 421.84L455.26 421.91L456.45 421.69L457.64 421.71L458.83 422.03L460.02 422.59L461.21 423.47L462.40 424.58L463.59 425.16L464.78 425.24L465.97 425.10L467.16 424.85L468.35 424.71L469.54 425.13L470.73 425.99L471.92 426.35L473.11 426.28L474.31 425.94L475.50 426.36L476.69 426.90L477.88 426.52L479.07 425.75L480.26 425.35L481.45 425.21L482.64 424.85L483.83 424.35L485.02 420.35L486.21 417.65L487.40 416.02L488.59 415.26L489.78 414.86L490.97 414.41L492.16 413.86L493.35 413.13L494.54 412.13L495.73 410.64L496.92 410.77L498.12 411.60L499.31 412.34L500.50 413.22L501.69 414.51L502.88 415.84L504.07 416.62L505.26 416.98L506.45 417.10L507.64 417.19L508.83 418.42L510.02 420.96L511.21 424.50L512.40 426.52L513.59 427.49L514.78 428.05L515.97 428.27L517.16 428.26L518.35 428.07L519.54 427.66L520.73 426.82L521.93 425.66L523.12 425.59L524.31 426.37L525.50 426.90L526.69 427.22L527.88 428.04L529.07 429.23L530.26 430.89L531.45 432.92L532.64 434.42L533.83 434.78L535.02 434.65L536.21 434.31L537.40 434.37L538.59 435.13L539.78 436.45L540.97 438.17L542.16 440.23L543.35 442.54L544.54 443.98L545.74 444.30L546.93 444.57L548.12 444.85L549.31 444.25L550.50 442.93L551.69 441.22L552.88 439.53L554.07 437.98L555.26 436.61L556.45 435.52L557.64 434.57L558.83 433.17L560.02 431.43L561.21 429.95L562.40 428.70L563.59 427.60L564.78 426.51L565.97 425.47L567.16 424.65L568.35 424.01L569.55 423.30L570.74 422.45L571.93 421.34L573.12 420.01L574.31 418.64L575.50 417.27L576.69 416.49L577.88 416.39L579.07 416.00L580.26 414.95L581.45 413.30L582.64 411.37L583.83 411.02L585.02 411.56L586.21 411.86L587.40 412.00L588.59 412.09L589.78 412.15L590.97 412.47L592.16 412.64L593.36 412.18L594.55 411.18L595.74 409.73L596.93 407.90L598.12 405.75L599.31 403.56L600.50 402.68L601.69 400.10L602.88 396.53L604.07 393.73L605.26 393.52L606.45 395.29L607.64 396.51L608.83 395.58L610.02 396.14L611.21 397.92L612.40 400.73L613.59 404.60L614.78 409.16L615.97 412.58L617.17 415.88L618.36 419.34L619.55 421.76L620.74 422.37L621.93 421.73L623.12 422.09L624.31 423.18L625.50 424.40L626.69 425.71L627.88 427.15L629.07 428.67L630.26 429.64L631.45 430.09L632.64 430.36L633.83 430.57L635.02 430.21L636.21 429.20L637.40 427.76L638.59 426.04L639.78 423.93L640.98 421.34L642.17 419.79L643.36 419.53L644.55 419.19L645.74 418.80L646.93 416.99L648.12 417.54L649.31 415.74L650.50 413.23L651.69 411.76L652.88 411.79L654.07 412.75L655.26 414.29L656.45 415.90L657.64 417.26L658.83 418.26L660.02 418.79L661.21 419.66L662.40 421.00L663.59 422.41L664.79 423.83L665.98 424.25L667.17 423.96L668.36 423.59L669.55 423.14L670.74 422.57L671.93 422.03L673.12 421.99L674.31 422.32L675.50 422.58L676.69 422.77L677.88 422.80L679.07 422.65L680.26 422.74L681.45 424.35L682.64 426.43L683.83 428.70L685.02 431.06L686.21 433.50L687.41 436.08L688.60 438.83L689.79 441.69L690.98 445.68L692.17 450.29L693.36 454.98L694.55 459.10L695.74 461.50L696.93 462.65L698.12 463.29L699.31 463.67L700.50 465.16L701.69 467.20L702.88 469.50L704.07 472.34L705.26 475.26L706.45 476.37L707.64 476.28L708.83 476.87L710.02 477.79L711.22 478.88L712.41 479.21L713.60 478.35L714.79 476.37L715.98 473.56L717.17 471.33L718.36 469.59L719.55 468.11L720.74 466.35L721.93 464.06L723.12 461.02L724.31 457.11L725.50 453.34L726.69 450.81L727.88 449.29L729.07 448.60L730.26 448.26L731.45 447.17L732.64 445.53L733.83 443.58L735.03 441.41L736.22 439.07L737.41 436.62L738.60 434.35L739.79 432.93L740.98 432.18L742.17 431.93L743.36 432.01L744.55 431.31L745.74 430.03L746.93 428.80L748.12 427.67L749.31 426.98L750.50 426.71L751.69 426.86L752.88 427.37L754.07 428.39L755.26 429.91L756.45 431.63L757.64 433.30L758.84 434.93L760.03 436.50L761.22 437.74L762.41 438.19L763.60 438.12L764.79 437.96L765.98 437.81L767.17 438.08L768.36 438.64L769.55 438.73L770.74 438.46L771.93 438.63L773.12 439.19L774.31 439.59L775.50 441.71L776.69 443.97L777.88 445.16L779.07 445.58L780.26 443.80L781.45 442.05L782.65 440.41L783.84 439.18L785.03 438.00L786.22 436.09L787.41 433.88L788.60 431.64L789.79 429.40L790.98 427.71L792.17 426.59L793.36 425.62L794.55 424.66L795.74 424.27L796.93 424.68L798.12 424.77L799.31 423.76L800.50 422.27L801.69 420.95L802.88 419.93L804.07 419.47L805.26 419.49L806.46 419.98L807.65 420.67L808.84 420.44L810.03 420.87L811.22 422.18L812.41 423.73L813.60 425.45L814.79 427.30L815.98 429.11L817.17 430.06L818.36 430.32L819.55 430.01L820.74 429.26L821.93 428.16L823.12 426.81L824.31 425.35L825.50 424.05L826.69 423.85L827.88 424.38L829.07 425.21L830.27 426.25L831.46 427.36L832.65 428.61L833.84 430.55L835.03 432.64L836.22 433.89L837.41 434.60L838.60 435.13L839.79 435.54L840.98 435.90L842.17 436.24L843.36 436.62L844.55 437.08L845.74 436.88L846.93 435.73L848.12 434.27L849.31 432.95L850.50 431.71L851.69 430.46L852.88 429.38L854.08 428.78L855.27 428.57L856.46 428.72L857.65 429.15L858.84 429.91L860.03 430.92L861.22 431.88L862.41 432.78L863.60 433.50L864.79 433.71L865.98 433.57L867.17 433.35L868.36 433.04L869.55 432.23L870.74 431.69L871.93 431.74L873.12 432.18L874.31 432.22L875.50 431.94L876.69 431.36L877.89 430.54L879.08 430.10L880.27 430.01L881.46 430.09L882.65 430.19L883.84 430.08L885.03 429.50L886.22 428.58L887.41 427.46L888.60 426.28" stroke="#111" stroke-width="1" fill="none" stroke-linejoin="round"/>
<g opacity="0.999">
<text x="0.5" y="7.6" font-size="7.6" font-family="Liberation Sans, Noto Sans CJK SC, sans-serif" fill="#3a3a3a" text-anchor="start" textLength="87" lengthAdjust="spacingAndGlyphs">棕榈油加权(320588)&lt;日线&gt;</text>
<text x="109" y="7.6" font-size="7.2" font-family="Liberation Sans, Noto Sans CJK SC, sans-serif" fill="#555" text-anchor="start" textLength="35" lengthAdjust="spacingAndGlyphs">[11 03:5:]</text>
<text x="148" y="7.6" font-size="7.3" font-family="Liberation Sans, Noto Sans CJK SC, sans-serif" fill="#555" text-anchor="start" textLength="28.5" lengthAdjust="spacingAndGlyphs">最新:8202</text>
<text x="185" y="7.6" font-size="7.2" font-family="Liberation Sans, Noto Sans CJK SC, sans-serif" fill="#555" text-anchor="start" textLength="20.5" lengthAdjust="spacingAndGlyphs">+0.33%</text>
<text x="209.5" y="7.6" font-size="7.3" font-family="Liberation Sans, Noto Sans CJK SC, sans-serif" fill="#555" text-anchor="start" textLength="29" lengthAdjust="spacingAndGlyphs">今开:8206</text>
<text x="248.5" y="7.6" font-size="7.3" font-family="Liberation Sans, Noto Sans CJK SC, sans-serif" fill="#555" text-anchor="start" textLength="31" lengthAdjust="spacingAndGlyphs">最高:8261</text>
<text x="286" y="7.6" font-size="7.3" font-family="Liberation Sans, Noto Sans CJK SC, sans-serif" fill="#555" text-anchor="start" textLength="30" lengthAdjust="spacingAndGlyphs">最低:8156</text>
<text x="323.5" y="7.6" font-size="7.3" font-family="Liberation Sans, Noto Sans CJK SC, sans-serif" fill="#555" text-anchor="start" textLength="31.5" lengthAdjust="spacingAndGlyphs">昨结:8175</text>
<text x="830" y="6.9" font-size="7.2" font-family="Liberation Sans, Noto Sans CJK SC, sans-serif" fill="#333" text-anchor="start" textLength="29" lengthAdjust="spacingAndGlyphs">商品叠加</text>
<text x="884.5" y="6.9" font-size="7.2" font-family="Liberation Sans, Noto Sans CJK SC, sans-serif" fill="#333" text-anchor="start" textLength="14" lengthAdjust="spacingAndGlyphs">周期</text>
<line x1="830" y1="7.6" x2="859.2" y2="7.6" stroke="#444" stroke-width="0.9"/>
<line x1="884.3" y1="7.6" x2="898.6" y2="7.6" stroke="#444" stroke-width="0.9"/>
<text x="37" y="19" font-size="8" font-family="Liberation Sans, Noto Sans CJK SC, sans-serif" fill="#444" text-anchor="start" textLength="3.6" lengthAdjust="spacingAndGlyphs">K</text>
<text x="32" y="47.7" font-size="7.6" font-family="Liberation Sans, Noto Sans CJK SC, sans-serif" fill="#444" text-anchor="end" textLength="20.0" lengthAdjust="spacingAndGlyphs">12000</text>
<text x="32" y="78.4" font-size="7.6" font-family="Liberation Sans, Noto Sans CJK SC, sans-serif" fill="#444" text-anchor="end" textLength="20.0" lengthAdjust="spacingAndGlyphs">11000</text>
<text x="32" y="140.2" font-size="7.6" font-family="Liberation Sans, Noto Sans CJK SC, sans-serif" fill="#444" text-anchor="end" textLength="16.0" lengthAdjust="spacingAndGlyphs">9000</text>
<text x="32" y="171.2" font-size="7.6" font-family="Liberation Sans, Noto Sans CJK SC, sans-serif" fill="#444" text-anchor="end" textLength="16.0" lengthAdjust="spacingAndGlyphs">8000</text>
<text x="32" y="202.1" font-size="7.6" font-family="Liberation Sans, Noto Sans CJK SC, sans-serif" fill="#444" text-anchor="end" textLength="16.0" lengthAdjust="spacingAndGlyphs">7000</text>
<text x="32" y="233.0" font-size="7.6" font-family="Liberation Sans, Noto Sans CJK SC, sans-serif" fill="#444" text-anchor="end" textLength="16.0" lengthAdjust="spacingAndGlyphs">6000</text>
<text x="32" y="263.9" font-size="7.6" font-family="Liberation Sans, Noto Sans CJK SC, sans-serif" fill="#444" text-anchor="end" textLength="16.0" lengthAdjust="spacingAndGlyphs">5000</text>
<text x="32" y="109.3" font-size="7.8" font-family="Liberation Sans, Noto Sans CJK SC, sans-serif" fill="#444" text-anchor="end" textLength="11" lengthAdjust="spacingAndGlyphs">1万</text>
<text x="32" y="320.3" font-size="7.8" font-family="Liberation Sans, Noto Sans CJK SC, sans-serif" fill="#444" text-anchor="end" textLength="19" lengthAdjust="spacingAndGlyphs">200万</text>
<text x="32" y="351.8" font-size="7.8" font-family="Liberation Sans, Noto Sans CJK SC, sans-serif" fill="#444" text-anchor="end" textLength="19" lengthAdjust="spacingAndGlyphs">100万</text>
<text x="32" y="432.0" font-size="7.6" font-family="Liberation Sans, Noto Sans CJK SC, sans-serif" fill="#444" text-anchor="end" textLength="4" lengthAdjust="spacingAndGlyphs">0</text>
<text x="620.6" y="29" font-size="7.9" font-family="Liberation Sans, Noto Sans CJK SC, sans-serif" fill="#111" text-anchor="start" textLength="20.4" lengthAdjust="spacingAndGlyphs">13801</text>
<path d="M647.5 25.3h3" stroke="#333" stroke-width="0.8"/>
<text x="68.5" y="284.9" font-size="7.9" font-family="Liberation Sans, Noto Sans CJK SC, sans-serif" fill="#111" text-anchor="start" textLength="16.5" lengthAdjust="spacingAndGlyphs">4303</text>
<path d="M61 282.6h7M61 282.6l3-3" stroke="#666" stroke-width="0.7" fill="none"/>
<text x="284.0" y="232.6" font-size="9.8" font-family="Liberation Sans, Noto Sans CJK SC, sans-serif" fill="#111" text-anchor="start" textLength="5.6" lengthAdjust="spacingAndGlyphs">A</text>
<text x="394.8" y="224.3" font-size="9.8" font-family="Liberation Sans, Noto Sans CJK SC, sans-serif" fill="#111" text-anchor="start" textLength="5.4" lengthAdjust="spacingAndGlyphs">B</text>
<text x="788.3" y="198.6" font-size="10" font-family="Liberation Sans, Noto Sans CJK SC, sans-serif" fill="#222" text-anchor="start" textLength="20" lengthAdjust="spacingAndGlyphs">缺口</text>
<text x="36.8" y="300.4" font-size="8.2" font-family="Liberation Sans, Noto Sans CJK SC, sans-serif" fill="#555" text-anchor="start" textLength="34" lengthAdjust="spacingAndGlyphs">VOL(5,10)</text>
<text x="74.2" y="300.4" font-size="8.2" font-family="Liberation Sans, Noto Sans CJK SC, sans-serif" fill="#555" text-anchor="start" textLength="77" lengthAdjust="spacingAndGlyphs">VOLUME:373726.0000</text>
<text x="153.2" y="300.4" font-size="8.2" font-family="Liberation Sans, Noto Sans CJK SC, sans-serif" fill="#111" text-anchor="start" textLength="74.6" lengthAdjust="spacingAndGlyphs" font-weight="bold">MAVOL1:667723.0000</text>
<text x="232" y="300.4" font-size="8.2" font-family="Liberation Sans, Noto Sans CJK SC, sans-serif" fill="#9a9a9a" text-anchor="start" textLength="75" lengthAdjust="spacingAndGlyphs">MAVOL2:699509.1000</text>
<text x="37" y="391.1" font-size="8.2" font-family="Liberation Sans, Noto Sans CJK SC, sans-serif" fill="#555" text-anchor="start" textLength="50.5" lengthAdjust="spacingAndGlyphs">MACD(12,26,9)</text>
<text x="90.6" y="391.1" font-size="8.2" font-family="Liberation Sans, Noto Sans CJK SC, sans-serif" fill="#111" text-anchor="start" textLength="45.4" lengthAdjust="spacingAndGlyphs" font-weight="bold">DIFF:49.2520</text>
<text x="138" y="391.1" font-size="8.2" font-family="Liberation Sans, Noto Sans CJK SC, sans-serif" fill="#9a9a9a" text-anchor="start" textLength="40" lengthAdjust="spacingAndGlyphs">DEA:5.5408</text>
<text x="180.5" y="391.1" font-size="8.2" font-family="Liberation Sans, Noto Sans CJK SC, sans-serif" fill="#555" text-anchor="start" textLength="49.5" lengthAdjust="spacingAndGlyphs">MACD:87.4442</text>
<text x="19" y="486.1" font-size="7.4" font-family="Liberation Sans, Noto Sans CJK SC, sans-serif" fill="#333" text-anchor="start" textLength="14.5" lengthAdjust="spacingAndGlyphs">日线</text>
<text x="36.5" y="486.1" font-size="7.2" font-family="Liberation Sans, Noto Sans CJK SC, sans-serif" fill="#444" text-anchor="start" textLength="23" lengthAdjust="spacingAndGlyphs">2020/03</text>
<text x="277" y="486.1" font-size="7.2" font-family="Liberation Sans, Noto Sans CJK SC, sans-serif" fill="#444" text-anchor="start" textLength="23" lengthAdjust="spacingAndGlyphs">2021/02</text>
<text x="571" y="486.1" font-size="7.2" font-family="Liberation Sans, Noto Sans CJK SC, sans-serif" fill="#444" text-anchor="start" textLength="23" lengthAdjust="spacingAndGlyphs">2022/02</text>
<text x="860" y="486.1" font-size="7.2" font-family="Liberation Sans, Noto Sans CJK SC, sans-serif" fill="#444" text-anchor="start" textLength="23" lengthAdjust="spacingAndGlyphs">2023/02</text>
<text x="84.7" y="486.1" font-size="7.2" font-family="Liberation Sans, Noto Sans CJK SC, sans-serif" fill="#444" text-anchor="start" textLength="6.6" lengthAdjust="spacingAndGlyphs">06</text>
<text x="136.7" y="486.1" font-size="7.2" font-family="Liberation Sans, Noto Sans CJK SC, sans-serif" fill="#444" text-anchor="start" textLength="6.6" lengthAdjust="spacingAndGlyphs">08</text>
<text x="186.7" y="486.1" font-size="7.2" font-family="Liberation Sans, Noto Sans CJK SC, sans-serif" fill="#444" text-anchor="start" textLength="6.6" lengthAdjust="spacingAndGlyphs">10</text>
<text x="232.7" y="486.1" font-size="7.2" font-family="Liberation Sans, Noto Sans CJK SC, sans-serif" fill="#444" text-anchor="start" textLength="6.6" lengthAdjust="spacingAndGlyphs">12</text>
<text x="331.7" y="486.1" font-size="7.2" font-family="Liberation Sans, Noto Sans CJK SC, sans-serif" fill="#444" text-anchor="start" textLength="6.6" lengthAdjust="spacingAndGlyphs">04</text>
<text x="378.7" y="486.1" font-size="7.2" font-family="Liberation Sans, Noto Sans CJK SC, sans-serif" fill="#444" text-anchor="start" textLength="6.6" lengthAdjust="spacingAndGlyphs">06</text>
<text x="431.2" y="486.1" font-size="7.2" font-family="Liberation Sans, Noto Sans CJK SC, sans-serif" fill="#444" text-anchor="start" textLength="6.6" lengthAdjust="spacingAndGlyphs">08</text>
<text x="481.7" y="486.1" font-size="7.2" font-family="Liberation Sans, Noto Sans CJK SC, sans-serif" fill="#444" text-anchor="start" textLength="6.6" lengthAdjust="spacingAndGlyphs">10</text>
<text x="526.7" y="486.1" font-size="7.2" font-family="Liberation Sans, Noto Sans CJK SC, sans-serif" fill="#444" text-anchor="start" textLength="6.6" lengthAdjust="spacingAndGlyphs">12</text>
<text x="625.7" y="486.1" font-size="7.2" font-family="Liberation Sans, Noto Sans CJK SC, sans-serif" fill="#444" text-anchor="start" textLength="6.6" lengthAdjust="spacingAndGlyphs">04</text>
<text x="671.7" y="486.1" font-size="7.2" font-family="Liberation Sans, Noto Sans CJK SC, sans-serif" fill="#444" text-anchor="start" textLength="6.6" lengthAdjust="spacingAndGlyphs">06</text>
<text x="722.7" y="486.1" font-size="7.2" font-family="Liberation Sans, Noto Sans CJK SC, sans-serif" fill="#444" text-anchor="start" textLength="6.6" lengthAdjust="spacingAndGlyphs">08</text>
<text x="775.7" y="486.1" font-size="7.2" font-family="Liberation Sans, Noto Sans CJK SC, sans-serif" fill="#444" text-anchor="start" textLength="6.6" lengthAdjust="spacingAndGlyphs">10</text>
<text x="822.7" y="486.1" font-size="7.2" font-family="Liberation Sans, Noto Sans CJK SC, sans-serif" fill="#444" text-anchor="start" textLength="6.6" lengthAdjust="spacingAndGlyphs">12</text>
</g>
</svg>
</body></html>
